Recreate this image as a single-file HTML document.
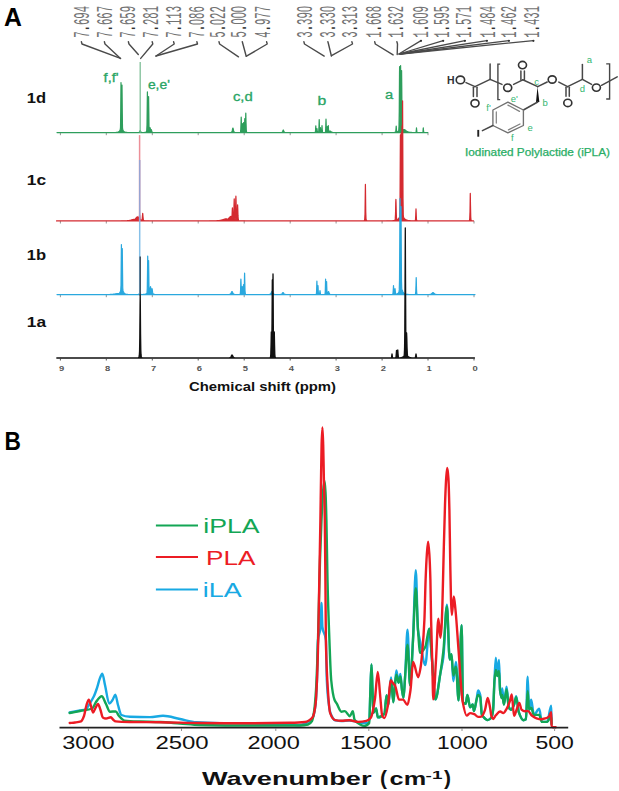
<!DOCTYPE html>
<html><head><meta charset="utf-8"><style>html,body{margin:0;padding:0;background:#fff;}svg{display:block;}</style></head>
<body>
<svg width="619" height="791" viewBox="0 0 619 791">
<rect width="619" height="791" fill="#fff"/>
<text x="4.1" y="26.4" font-family='"Liberation Sans", sans-serif' font-weight="bold" font-size="26" fill="#000" textLength="17.9" lengthAdjust="spacingAndGlyphs">A</text>
<text x="4.6" y="450" font-family='"Liberation Sans", sans-serif' font-weight="bold" font-size="26" fill="#000" textLength="16.4" lengthAdjust="spacingAndGlyphs">B</text>
<text x="26.8" y="102.5" font-family='"Liberation Sans", sans-serif' font-weight="bold" font-size="14" fill="#111" textLength="19.3" lengthAdjust="spacingAndGlyphs">1d</text>
<text x="26.8" y="184.8" font-family='"Liberation Sans", sans-serif' font-weight="bold" font-size="14" fill="#111" textLength="19.3" lengthAdjust="spacingAndGlyphs">1c</text>
<text x="26.8" y="260.0" font-family='"Liberation Sans", sans-serif' font-weight="bold" font-size="14" fill="#111" textLength="19.3" lengthAdjust="spacingAndGlyphs">1b</text>
<text x="26.8" y="326.5" font-family='"Liberation Sans", sans-serif' font-weight="bold" font-size="14" fill="#111" textLength="19.3" lengthAdjust="spacingAndGlyphs">1a</text>
<line x1="428.0" y1="132.6" x2="428.0" y2="135.2" stroke="#888" stroke-width="0.9"/><line x1="382.1" y1="132.6" x2="382.1" y2="135.2" stroke="#888" stroke-width="0.9"/><line x1="336.1" y1="132.6" x2="336.1" y2="135.2" stroke="#888" stroke-width="0.9"/><line x1="290.2" y1="132.6" x2="290.2" y2="135.2" stroke="#888" stroke-width="0.9"/><line x1="244.2" y1="132.6" x2="244.2" y2="135.2" stroke="#888" stroke-width="0.9"/><line x1="198.2" y1="132.6" x2="198.2" y2="135.2" stroke="#888" stroke-width="0.9"/><line x1="152.3" y1="132.6" x2="152.3" y2="135.2" stroke="#888" stroke-width="0.9"/><line x1="106.3" y1="132.6" x2="106.3" y2="135.2" stroke="#888" stroke-width="0.9"/><line x1="60.4" y1="132.6" x2="60.4" y2="135.2" stroke="#888" stroke-width="0.9"/><path d="M57.00,132.60 L57.25,132.60 L57.50,132.60 L57.75,132.60 L58.00,132.60 L58.25,132.60 L58.50,132.60 L58.75,132.60 L59.00,132.60 L59.25,132.60 L59.50,132.60 L59.75,132.60 L60.00,132.60 L60.25,132.60 L60.50,132.60 L60.75,132.60 L61.00,132.60 L61.25,132.60 L61.50,132.60 L61.75,132.60 L62.00,132.60 L62.25,132.60 L62.50,132.60 L62.75,132.60 L63.00,132.60 L63.25,132.60 L63.50,132.60 L63.75,132.60 L64.00,132.60 L64.25,132.60 L64.50,132.60 L64.75,132.60 L65.00,132.60 L65.25,132.60 L65.50,132.60 L65.75,132.60 L66.00,132.60 L66.25,132.60 L66.50,132.60 L66.75,132.60 L67.00,132.60 L67.25,132.60 L67.50,132.60 L67.75,132.60 L68.00,132.60 L68.25,132.60 L68.50,132.60 L68.75,132.60 L69.00,132.60 L69.25,132.60 L69.50,132.60 L69.75,132.60 L70.00,132.60 L70.25,132.60 L70.50,132.60 L70.75,132.60 L71.00,132.60 L71.25,132.60 L71.50,132.60 L71.75,132.60 L72.00,132.60 L72.25,132.60 L72.50,132.60 L72.75,132.60 L73.00,132.60 L73.25,132.60 L73.50,132.60 L73.75,132.60 L74.00,132.60 L74.25,132.60 L74.50,132.60 L74.75,132.60 L75.00,132.60 L75.25,132.60 L75.50,132.60 L75.75,132.60 L76.00,132.60 L76.25,132.60 L76.50,132.60 L76.75,132.60 L77.00,132.60 L77.25,132.60 L77.50,132.60 L77.75,132.60 L78.00,132.60 L78.25,132.60 L78.50,132.60 L78.75,132.60 L79.00,132.60 L79.25,132.60 L79.50,132.60 L79.75,132.60 L80.00,132.60 L80.25,132.60 L80.50,132.60 L80.75,132.60 L81.00,132.60 L81.25,132.60 L81.50,132.60 L81.75,132.60 L82.00,132.60 L82.25,132.60 L82.50,132.60 L82.75,132.60 L83.00,132.60 L83.25,132.60 L83.50,132.60 L83.75,132.60 L84.00,132.60 L84.25,132.60 L84.50,132.60 L84.75,132.60 L85.00,132.60 L85.25,132.60 L85.50,132.60 L85.75,132.60 L86.00,132.60 L86.25,132.60 L86.50,132.60 L86.75,132.60 L87.00,132.60 L87.25,132.60 L87.50,132.60 L87.75,132.60 L88.00,132.60 L88.25,132.60 L88.50,132.60 L88.75,132.60 L89.00,132.60 L89.25,132.60 L89.50,132.60 L89.75,132.60 L90.00,132.60 L90.25,132.60 L90.50,132.60 L90.75,132.60 L91.00,132.60 L91.25,132.60 L91.50,132.60 L91.75,132.60 L92.00,132.60 L92.25,132.60 L92.50,132.60 L92.75,132.60 L93.00,132.60 L93.25,132.60 L93.50,132.60 L93.75,132.60 L94.00,132.60 L94.25,132.60 L94.50,132.60 L94.75,132.60 L95.00,132.60 L95.25,132.60 L95.50,132.60 L95.75,132.60 L96.00,132.60 L96.25,132.60 L96.50,132.60 L96.75,132.60 L97.00,132.60 L97.25,132.60 L97.50,132.60 L97.75,132.60 L98.00,132.60 L98.25,132.60 L98.50,132.60 L98.75,132.60 L99.00,132.60 L99.25,132.60 L99.50,132.60 L99.75,132.60 L100.00,132.60 L100.25,132.60 L100.50,132.60 L100.75,132.60 L101.00,132.60 L101.25,132.60 L101.50,132.60 L101.75,132.60 L102.00,132.60 L102.25,132.60 L102.50,132.60 L102.75,132.60 L103.00,132.60 L103.25,132.60 L103.50,132.60 L103.75,132.60 L104.00,132.60 L104.25,132.60 L104.50,132.60 L104.75,132.60 L105.00,132.60 L105.25,132.60 L105.50,132.60 L105.75,132.60 L106.00,132.60 L106.25,132.60 L106.50,132.60 L106.75,132.60 L107.00,132.60 L107.25,132.60 L107.50,132.60 L107.75,132.60 L108.00,132.60 L108.25,132.59 L108.50,132.59 L108.75,132.59 L109.00,132.59 L109.25,132.59 L109.50,132.59 L109.75,132.59 L110.00,132.59 L110.25,132.59 L110.50,132.59 L110.75,132.59 L111.00,132.59 L111.25,132.59 L111.50,132.58 L111.75,132.58 L112.00,132.58 L112.25,132.58 L112.50,132.58 L112.75,132.57 L113.00,132.57 L113.25,132.57 L113.50,132.56 L113.75,132.56 L114.00,132.56 L114.25,132.55 L114.50,132.54 L114.75,132.53 L115.00,132.53 L115.25,132.51 L115.50,132.50 L115.75,132.49 L116.00,132.47 L116.25,132.45 L116.50,132.42 L116.75,132.39 L117.00,132.35 L117.25,132.30 L117.50,132.24 L117.75,132.17 L118.00,132.09 L118.25,131.98 L118.50,131.84 L118.75,131.68 L119.00,131.47 L119.25,131.23 L119.50,130.93 L119.75,130.57 L120.00,130.17 L120.25,129.72 L120.50,127.19 L120.75,110.68 L121.00,82.60 L121.25,110.68 L121.50,127.19 L121.75,111.77 L122.00,85.10 L122.25,111.77 L122.50,127.46 L122.75,129.72 L123.00,130.17 L123.25,130.57 L123.50,130.93 L123.75,131.23 L124.00,131.47 L124.25,131.68 L124.50,131.84 L124.75,131.98 L125.00,132.09 L125.25,132.17 L125.50,132.24 L125.75,132.30 L126.00,132.35 L126.25,132.39 L126.50,132.42 L126.75,132.45 L127.00,132.47 L127.25,132.49 L127.50,132.50 L127.75,132.51 L128.00,132.53 L128.25,132.53 L128.50,132.54 L128.75,132.55 L129.00,132.56 L129.25,132.56 L129.50,132.56 L129.75,132.57 L130.00,132.57 L130.25,132.57 L130.50,132.58 L130.75,132.58 L131.00,132.58 L131.25,132.58 L131.50,132.58 L131.75,132.59 L132.00,132.59 L132.25,132.59 L132.50,132.59 L132.75,132.59 L133.00,132.59 L133.25,132.59 L133.50,132.59 L133.75,132.59 L134.00,132.59 L134.25,132.59 L134.50,132.59 L134.75,132.59 L135.00,132.60 L135.25,132.60 L135.50,132.60 L135.75,132.60 L136.00,132.60 L136.25,132.60 L136.50,132.60 L136.75,132.59 L137.00,132.59 L137.25,132.59 L137.50,132.59 L137.75,132.58 L138.00,132.57 L138.25,132.56 L138.50,132.53 L138.75,132.49 L139.00,132.41 L139.25,132.26 L139.50,131.96 L139.75,131.45 L140.00,130.83 L140.20,130.60 L140.25,130.62 L140.50,131.06 L140.75,131.68 L141.00,132.10 L141.25,132.33 L141.50,132.45 L141.75,132.51 L142.00,132.55 L142.25,132.57 L142.50,132.56 L142.75,132.56 L143.00,132.55 L143.25,132.54 L143.50,132.53 L143.75,132.52 L144.00,132.50 L144.25,132.48 L144.50,132.45 L144.75,132.41 L145.00,132.36 L145.25,132.30 L145.50,132.22 L145.75,132.12 L146.00,131.99 L146.25,131.81 L146.50,131.59 L146.75,130.54 L147.00,124.95 L147.25,103.55 L147.40,91.90 L147.50,97.81 L147.75,122.42 L148.00,129.66 L148.20,125.83 L148.25,123.60 L148.50,101.83 L148.60,96.60 L148.75,106.91 L149.00,125.83 L149.25,130.76 L149.50,130.01 L149.75,128.45 L150.00,127.60 L150.25,128.45 L150.50,130.01 L150.75,130.87 L151.00,129.94 L151.20,129.60 L151.25,129.62 L151.50,130.29 L151.75,131.22 L152.00,131.85 L152.25,132.20 L152.50,132.37 L152.75,132.47 L153.00,132.52 L153.25,132.54 L153.50,132.55 L153.75,132.56 L154.00,132.57 L154.25,132.57 L154.50,132.57 L154.75,132.58 L155.00,132.58 L155.25,132.58 L155.50,132.59 L155.75,132.59 L156.00,132.59 L156.25,132.59 L156.50,132.59 L156.75,132.59 L157.00,132.59 L157.25,132.59 L157.50,132.59 L157.75,132.59 L158.00,132.60 L158.25,132.60 L158.50,132.60 L158.75,132.60 L159.00,132.60 L159.25,132.60 L159.50,132.60 L159.75,132.60 L160.00,132.60 L160.25,132.60 L160.50,132.60 L160.75,132.60 L161.00,132.60 L161.25,132.60 L161.50,132.60 L161.75,132.60 L162.00,132.60 L162.25,132.60 L162.50,132.60 L162.75,132.60 L163.00,132.60 L163.25,132.60 L163.50,132.60 L163.75,132.60 L164.00,132.60 L164.25,132.60 L164.50,132.60 L164.75,132.60 L165.00,132.60 L165.25,132.60 L165.50,132.60 L165.75,132.60 L166.00,132.60 L166.25,132.60 L166.50,132.60 L166.75,132.60 L167.00,132.60 L167.25,132.60 L167.50,132.60 L167.75,132.60 L168.00,132.60 L168.25,132.60 L168.50,132.60 L168.75,132.60 L169.00,132.60 L169.25,132.60 L169.50,132.60 L169.75,132.60 L170.00,132.60 L170.25,132.60 L170.50,132.60 L170.75,132.60 L171.00,132.60 L171.25,132.60 L171.50,132.60 L171.75,132.60 L172.00,132.60 L172.25,132.60 L172.50,132.60 L172.75,132.60 L173.00,132.60 L173.25,132.60 L173.50,132.60 L173.75,132.60 L174.00,132.60 L174.25,132.60 L174.50,132.60 L174.75,132.60 L175.00,132.60 L175.25,132.60 L175.50,132.60 L175.75,132.60 L176.00,132.60 L176.25,132.60 L176.50,132.60 L176.75,132.60 L177.00,132.60 L177.25,132.60 L177.50,132.60 L177.75,132.60 L178.00,132.60 L178.25,132.60 L178.50,132.60 L178.75,132.60 L179.00,132.60 L179.25,132.60 L179.50,132.60 L179.75,132.60 L180.00,132.60 L180.25,132.60 L180.50,132.60 L180.75,132.60 L181.00,132.60 L181.25,132.60 L181.50,132.60 L181.75,132.60 L182.00,132.60 L182.25,132.60 L182.50,132.60 L182.75,132.60 L183.00,132.60 L183.25,132.60 L183.50,132.60 L183.75,132.60 L184.00,132.60 L184.25,132.60 L184.50,132.60 L184.75,132.60 L185.00,132.60 L185.25,132.60 L185.50,132.60 L185.75,132.60 L186.00,132.60 L186.25,132.60 L186.50,132.60 L186.75,132.60 L187.00,132.60 L187.25,132.60 L187.50,132.60 L187.75,132.60 L188.00,132.60 L188.25,132.60 L188.50,132.60 L188.75,132.60 L189.00,132.60 L189.25,132.60 L189.50,132.60 L189.75,132.60 L190.00,132.60 L190.25,132.60 L190.50,132.60 L190.75,132.60 L191.00,132.60 L191.25,132.60 L191.50,132.60 L191.75,132.60 L192.00,132.60 L192.25,132.60 L192.50,132.60 L192.75,132.60 L193.00,132.60 L193.25,132.60 L193.50,132.60 L193.75,132.60 L194.00,132.60 L194.25,132.60 L194.50,132.60 L194.75,132.60 L195.00,132.60 L195.25,132.60 L195.50,132.60 L195.75,132.60 L196.00,132.60 L196.25,132.60 L196.50,132.60 L196.75,132.60 L197.00,132.60 L197.25,132.60 L197.50,132.60 L197.75,132.60 L198.00,132.60 L198.25,132.60 L198.50,132.60 L198.75,132.60 L199.00,132.60 L199.25,132.60 L199.50,132.60 L199.75,132.60 L200.00,132.60 L200.25,132.60 L200.50,132.60 L200.75,132.60 L201.00,132.60 L201.25,132.60 L201.50,132.60 L201.75,132.60 L202.00,132.60 L202.25,132.60 L202.50,132.60 L202.75,132.60 L203.00,132.60 L203.25,132.60 L203.50,132.60 L203.75,132.60 L204.00,132.60 L204.25,132.60 L204.50,132.60 L204.75,132.60 L205.00,132.60 L205.25,132.60 L205.50,132.60 L205.75,132.60 L206.00,132.60 L206.25,132.60 L206.50,132.60 L206.75,132.60 L207.00,132.60 L207.25,132.60 L207.50,132.60 L207.75,132.60 L208.00,132.60 L208.25,132.60 L208.50,132.60 L208.75,132.60 L209.00,132.60 L209.25,132.60 L209.50,132.60 L209.75,132.60 L210.00,132.60 L210.25,132.60 L210.50,132.60 L210.75,132.60 L211.00,132.60 L211.25,132.60 L211.50,132.60 L211.75,132.60 L212.00,132.60 L212.25,132.60 L212.50,132.60 L212.75,132.60 L213.00,132.60 L213.25,132.60 L213.50,132.60 L213.75,132.60 L214.00,132.60 L214.25,132.60 L214.50,132.60 L214.75,132.60 L215.00,132.60 L215.25,132.60 L215.50,132.60 L215.75,132.60 L216.00,132.60 L216.25,132.60 L216.50,132.60 L216.75,132.60 L217.00,132.60 L217.25,132.60 L217.50,132.60 L217.75,132.60 L218.00,132.60 L218.25,132.60 L218.50,132.60 L218.75,132.60 L219.00,132.60 L219.25,132.60 L219.50,132.60 L219.75,132.60 L220.00,132.60 L220.25,132.60 L220.50,132.60 L220.75,132.60 L221.00,132.60 L221.25,132.60 L221.50,132.60 L221.75,132.60 L222.00,132.60 L222.25,132.60 L222.50,132.60 L222.75,132.60 L223.00,132.60 L223.25,132.60 L223.50,132.60 L223.75,132.60 L224.00,132.60 L224.25,132.60 L224.50,132.60 L224.75,132.60 L225.00,132.60 L225.25,132.60 L225.50,132.60 L225.75,132.60 L226.00,132.60 L226.25,132.60 L226.50,132.60 L226.75,132.60 L227.00,132.60 L227.25,132.60 L227.50,132.60 L227.75,132.60 L228.00,132.60 L228.25,132.59 L228.50,132.59 L228.75,132.59 L229.00,132.59 L229.25,132.59 L229.50,132.58 L229.75,132.57 L230.00,132.57 L230.25,132.55 L230.50,132.53 L230.75,132.50 L231.00,132.45 L231.25,132.36 L231.50,132.22 L231.75,131.95 L232.00,131.47 L232.25,130.66 L232.50,129.46 L232.75,128.34 L232.90,128.10 L233.00,128.21 L233.25,129.20 L233.50,130.44 L233.75,131.34 L234.00,131.88 L234.25,132.17 L234.50,132.34 L234.75,132.44 L235.00,132.49 L235.25,132.53 L235.50,132.55 L235.75,132.56 L236.00,132.57 L236.25,132.58 L236.50,132.58 L236.75,132.59 L237.00,132.59 L237.25,132.59 L237.50,132.59 L237.75,132.60 L238.00,132.60 L238.25,132.60 L238.50,132.60 L238.75,132.59 L239.00,132.59 L239.25,132.58 L239.50,132.57 L239.75,132.55 L240.00,132.50 L240.25,132.38 L240.50,131.98 L240.75,130.40 L241.00,123.79 L241.20,117.10 L241.25,117.71 L241.50,127.45 L241.75,131.31 L242.00,129.61 L242.25,123.96 L242.30,123.60 L242.50,127.49 L242.75,131.32 L243.00,131.96 L243.25,130.10 L243.50,124.05 L243.60,122.60 L243.75,125.46 L244.00,130.72 L244.25,131.44 L244.50,127.95 L244.75,119.15 L244.80,118.60 L245.00,124.64 L245.25,130.61 L245.50,126.12 L245.75,113.87 L245.80,113.10 L246.00,121.52 L246.25,129.83 L246.50,131.82 L246.75,132.32 L247.00,132.48 L247.25,132.54 L247.50,132.57 L247.75,132.58 L248.00,132.59 L248.25,132.59 L248.50,132.59 L248.75,132.60 L249.00,132.60 L249.25,132.60 L249.50,132.60 L249.75,132.60 L250.00,132.60 L250.25,132.60 L250.50,132.60 L250.75,132.60 L251.00,132.60 L251.25,132.60 L251.50,132.60 L251.75,132.60 L252.00,132.60 L252.25,132.60 L252.50,132.60 L252.75,132.60 L253.00,132.60 L253.25,132.60 L253.50,132.60 L253.75,132.60 L254.00,132.60 L254.25,132.60 L254.50,132.60 L254.75,132.60 L255.00,132.60 L255.25,132.60 L255.50,132.60 L255.75,132.60 L256.00,132.60 L256.25,132.60 L256.50,132.60 L256.75,132.60 L257.00,132.60 L257.25,132.60 L257.50,132.60 L257.75,132.60 L258.00,132.60 L258.25,132.60 L258.50,132.60 L258.75,132.60 L259.00,132.60 L259.25,132.60 L259.50,132.60 L259.75,132.60 L260.00,132.60 L260.25,132.60 L260.50,132.60 L260.75,132.60 L261.00,132.60 L261.25,132.60 L261.50,132.60 L261.75,132.60 L262.00,132.60 L262.25,132.60 L262.50,132.60 L262.75,132.60 L263.00,132.60 L263.25,132.60 L263.50,132.60 L263.75,132.60 L264.00,132.60 L264.25,132.60 L264.50,132.60 L264.75,132.60 L265.00,132.60 L265.25,132.60 L265.50,132.60 L265.75,132.60 L266.00,132.60 L266.25,132.60 L266.50,132.60 L266.75,132.60 L267.00,132.60 L267.25,132.60 L267.50,132.60 L267.75,132.60 L268.00,132.60 L268.25,132.60 L268.50,132.60 L268.75,132.60 L269.00,132.60 L269.25,132.60 L269.50,132.60 L269.75,132.60 L270.00,132.60 L270.25,132.60 L270.50,132.60 L270.75,132.60 L271.00,132.60 L271.25,132.60 L271.50,132.60 L271.75,132.60 L272.00,132.60 L272.25,132.60 L272.50,132.60 L272.75,132.60 L273.00,132.60 L273.25,132.60 L273.50,132.60 L273.75,132.60 L274.00,132.60 L274.25,132.60 L274.50,132.60 L274.75,132.60 L275.00,132.60 L275.25,132.60 L275.50,132.60 L275.75,132.60 L276.00,132.60 L276.25,132.60 L276.50,132.60 L276.75,132.60 L277.00,132.60 L277.25,132.60 L277.50,132.60 L277.75,132.60 L278.00,132.60 L278.25,132.60 L278.50,132.60 L278.75,132.60 L279.00,132.60 L279.25,132.59 L279.50,132.59 L279.75,132.59 L280.00,132.59 L280.25,132.58 L280.50,132.58 L280.75,132.57 L281.00,132.55 L281.25,132.53 L281.50,132.50 L281.75,132.43 L282.00,132.33 L282.25,132.13 L282.50,131.79 L282.75,131.22 L283.00,130.49 L283.25,130.02 L283.30,130.00 L283.50,130.24 L283.75,130.94 L284.00,131.59 L284.25,132.02 L284.50,132.26 L284.75,132.40 L285.00,132.48 L285.25,132.52 L285.50,132.55 L285.75,132.56 L286.00,132.57 L286.25,132.58 L286.50,132.59 L286.75,132.59 L287.00,132.59 L287.25,132.59 L287.50,132.59 L287.75,132.60 L288.00,132.60 L288.25,132.60 L288.50,132.60 L288.75,132.60 L289.00,132.60 L289.25,132.60 L289.50,132.60 L289.75,132.60 L290.00,132.60 L290.25,132.60 L290.50,132.60 L290.75,132.60 L291.00,132.60 L291.25,132.60 L291.50,132.60 L291.75,132.60 L292.00,132.60 L292.25,132.60 L292.50,132.60 L292.75,132.60 L293.00,132.60 L293.25,132.60 L293.50,132.60 L293.75,132.60 L294.00,132.60 L294.25,132.60 L294.50,132.60 L294.75,132.60 L295.00,132.60 L295.25,132.60 L295.50,132.60 L295.75,132.60 L296.00,132.60 L296.25,132.60 L296.50,132.60 L296.75,132.60 L297.00,132.60 L297.25,132.60 L297.50,132.60 L297.75,132.60 L298.00,132.60 L298.25,132.60 L298.50,132.60 L298.75,132.60 L299.00,132.60 L299.25,132.60 L299.50,132.60 L299.75,132.60 L300.00,132.60 L300.25,132.60 L300.50,132.60 L300.75,132.60 L301.00,132.60 L301.25,132.60 L301.50,132.60 L301.75,132.60 L302.00,132.60 L302.25,132.60 L302.50,132.60 L302.75,132.60 L303.00,132.60 L303.25,132.60 L303.50,132.60 L303.75,132.60 L304.00,132.60 L304.25,132.60 L304.50,132.60 L304.75,132.60 L305.00,132.60 L305.25,132.60 L305.50,132.60 L305.75,132.60 L306.00,132.60 L306.25,132.60 L306.50,132.60 L306.75,132.60 L307.00,132.60 L307.25,132.60 L307.50,132.60 L307.75,132.60 L308.00,132.60 L308.25,132.60 L308.50,132.60 L308.75,132.60 L309.00,132.60 L309.25,132.60 L309.50,132.60 L309.75,132.60 L310.00,132.60 L310.25,132.60 L310.50,132.60 L310.75,132.60 L311.00,132.60 L311.25,132.60 L311.50,132.60 L311.75,132.60 L312.00,132.60 L312.25,132.60 L312.50,132.60 L312.75,132.60 L313.00,132.60 L313.25,132.60 L313.50,132.60 L313.75,132.60 L314.00,132.60 L314.25,132.59 L314.50,132.58 L314.75,132.56 L315.00,132.50 L315.25,132.24 L315.50,130.90 L315.75,126.16 L315.80,125.80 L316.00,129.34 L316.25,131.96 L316.50,132.32 L316.75,131.21 L317.00,128.60 L317.25,131.21 L317.50,132.32 L317.75,132.52 L318.00,132.56 L318.25,132.49 L318.50,132.29 L318.75,131.37 L319.00,126.37 L319.20,119.60 L319.25,120.29 L319.50,129.35 L319.75,131.92 L320.00,131.95 L320.25,129.40 L320.40,127.60 L320.50,128.55 L320.75,131.70 L321.00,132.40 L321.25,132.47 L321.50,132.11 L321.75,130.16 L322.00,125.60 L322.25,130.16 L322.50,132.11 L322.75,132.47 L323.00,132.55 L323.25,132.58 L323.50,132.59 L323.75,132.59 L324.00,132.59 L324.25,132.58 L324.50,132.58 L324.75,132.56 L325.00,132.51 L325.25,132.34 L325.50,131.65 L325.75,127.90 L326.00,119.10 L326.25,127.90 L326.50,131.65 L326.75,132.03 L327.00,129.72 L327.20,126.60 L327.25,126.92 L327.50,131.10 L327.75,132.23 L328.00,130.85 L328.25,125.97 L328.30,125.60 L328.50,129.24 L328.75,131.82 L329.00,131.64 L329.25,131.45 L329.50,131.27 L329.75,131.15 L330.00,131.10 L330.25,131.15 L330.50,131.27 L330.75,131.45 L331.00,131.64 L331.25,131.82 L331.50,131.99 L331.75,132.12 L332.00,132.22 L332.25,132.31 L332.50,132.37 L332.75,132.42 L333.00,132.46 L333.25,132.49 L333.50,132.51 L333.75,132.53 L334.00,132.54 L334.25,132.55 L334.50,132.56 L334.75,132.57 L335.00,132.57 L335.25,132.58 L335.50,132.58 L335.75,132.58 L336.00,132.59 L336.25,132.59 L336.50,132.59 L336.75,132.59 L337.00,132.59 L337.25,132.59 L337.50,132.59 L337.75,132.59 L338.00,132.59 L338.25,132.60 L338.50,132.60 L338.75,132.60 L339.00,132.60 L339.25,132.60 L339.50,132.60 L339.75,132.60 L340.00,132.60 L340.25,132.60 L340.50,132.60 L340.75,132.60 L341.00,132.60 L341.25,132.60 L341.50,132.60 L341.75,132.60 L342.00,132.60 L342.25,132.60 L342.50,132.60 L342.75,132.60 L343.00,132.60 L343.25,132.60 L343.50,132.60 L343.75,132.60 L344.00,132.60 L344.25,132.60 L344.50,132.60 L344.75,132.60 L345.00,132.60 L345.25,132.60 L345.50,132.60 L345.75,132.60 L346.00,132.60 L346.25,132.60 L346.50,132.60 L346.75,132.60 L347.00,132.60 L347.25,132.60 L347.50,132.60 L347.75,132.60 L348.00,132.60 L348.25,132.60 L348.50,132.60 L348.75,132.60 L349.00,132.60 L349.25,132.60 L349.50,132.60 L349.75,132.60 L350.00,132.60 L350.25,132.60 L350.50,132.60 L350.75,132.60 L351.00,132.60 L351.25,132.60 L351.50,132.60 L351.75,132.60 L352.00,132.60 L352.25,132.60 L352.50,132.60 L352.75,132.60 L353.00,132.60 L353.25,132.60 L353.50,132.60 L353.75,132.60 L354.00,132.60 L354.25,132.60 L354.50,132.60 L354.75,132.60 L355.00,132.60 L355.25,132.60 L355.50,132.60 L355.75,132.60 L356.00,132.60 L356.25,132.60 L356.50,132.60 L356.75,132.60 L357.00,132.60 L357.25,132.60 L357.50,132.60 L357.75,132.60 L358.00,132.60 L358.25,132.60 L358.50,132.60 L358.75,132.60 L359.00,132.60 L359.25,132.60 L359.50,132.60 L359.75,132.60 L360.00,132.60 L360.25,132.60 L360.50,132.60 L360.75,132.60 L361.00,132.60 L361.25,132.60 L361.50,132.60 L361.75,132.60 L362.00,132.60 L362.25,132.60 L362.50,132.60 L362.75,132.60 L363.00,132.60 L363.25,132.60 L363.50,132.60 L363.75,132.60 L364.00,132.60 L364.25,132.60 L364.50,132.60 L364.75,132.60 L365.00,132.60 L365.25,132.60 L365.50,132.60 L365.75,132.60 L366.00,132.60 L366.25,132.60 L366.50,132.60 L366.75,132.60 L367.00,132.60 L367.25,132.60 L367.50,132.60 L367.75,132.60 L368.00,132.60 L368.25,132.60 L368.50,132.60 L368.75,132.60 L369.00,132.60 L369.25,132.60 L369.50,132.60 L369.75,132.60 L370.00,132.60 L370.25,132.60 L370.50,132.60 L370.75,132.60 L371.00,132.60 L371.25,132.60 L371.50,132.60 L371.75,132.60 L372.00,132.60 L372.25,132.60 L372.50,132.60 L372.75,132.60 L373.00,132.60 L373.25,132.60 L373.50,132.60 L373.75,132.60 L374.00,132.60 L374.25,132.60 L374.50,132.60 L374.75,132.60 L375.00,132.60 L375.25,132.60 L375.50,132.60 L375.75,132.60 L376.00,132.60 L376.25,132.60 L376.50,132.60 L376.75,132.60 L377.00,132.60 L377.25,132.60 L377.50,132.60 L377.75,132.60 L378.00,132.60 L378.25,132.60 L378.50,132.60 L378.75,132.60 L379.00,132.60 L379.25,132.60 L379.50,132.60 L379.75,132.60 L380.00,132.60 L380.25,132.60 L380.50,132.60 L380.75,132.60 L381.00,132.60 L381.25,132.60 L381.50,132.60 L381.75,132.60 L382.00,132.60 L382.25,132.60 L382.50,132.60 L382.75,132.60 L383.00,132.60 L383.25,132.60 L383.50,132.60 L383.75,132.60 L384.00,132.60 L384.25,132.60 L384.50,132.60 L384.75,132.59 L385.00,132.59 L385.25,132.59 L385.50,132.59 L385.75,132.59 L386.00,132.59 L386.25,132.59 L386.50,132.59 L386.75,132.59 L387.00,132.59 L387.25,132.59 L387.50,132.59 L387.75,132.59 L388.00,132.59 L388.25,132.59 L388.50,132.59 L388.75,132.59 L389.00,132.58 L389.25,132.58 L389.50,132.58 L389.75,132.58 L390.00,132.58 L390.25,132.58 L390.50,132.57 L390.75,132.57 L391.00,132.57 L391.25,132.57 L391.50,132.56 L391.75,132.56 L392.00,132.55 L392.25,132.55 L392.50,132.54 L392.75,132.54 L393.00,132.53 L393.25,132.52 L393.50,132.51 L393.75,132.50 L394.00,132.48 L394.25,132.47 L394.50,132.45 L394.75,132.43 L395.00,132.40 L395.25,132.37 L395.50,132.34 L395.75,131.68 L396.00,128.91 L396.20,126.10 L396.25,126.36 L396.50,130.44 L396.75,132.03 L397.00,131.93 L397.25,131.81 L397.50,131.66 L397.75,131.49 L398.00,131.30 L398.25,131.06 L398.50,130.80 L398.75,130.43 L399.00,126.35 L399.25,111.43 L399.50,74.14 L399.60,66.60 L399.75,81.87 L400.00,116.10 L400.25,111.11 L400.50,73.25 L400.60,65.60 L400.75,81.10 L401.00,115.85 L401.25,112.71 L401.50,77.68 L401.60,70.60 L401.75,84.95 L402.00,117.10 L402.25,127.92 L402.50,130.29 L402.75,130.11 L403.00,129.94 L403.25,129.80 L403.50,129.69 L403.75,129.62 L404.00,129.60 L404.25,129.62 L404.50,129.69 L404.75,129.80 L405.00,129.94 L405.25,130.11 L405.50,130.29 L405.75,130.49 L406.00,130.68 L406.25,130.87 L406.50,131.05 L406.75,131.22 L407.00,131.37 L407.25,131.51 L407.50,131.64 L407.75,131.75 L408.00,131.85 L408.25,131.94 L408.50,132.02 L408.75,132.08 L409.00,132.14 L409.25,132.20 L409.50,132.24 L409.75,132.28 L410.00,132.32 L410.25,132.35 L410.50,132.37 L410.75,132.40 L411.00,132.42 L411.25,132.44 L411.50,132.45 L411.75,132.47 L412.00,132.48 L412.25,132.49 L412.50,132.50 L412.75,132.51 L413.00,132.52 L413.25,132.53 L413.50,132.53 L413.75,132.54 L414.00,132.54 L414.25,132.55 L414.50,132.55 L414.75,132.56 L415.00,132.56 L415.25,132.56 L415.50,132.57 L415.75,132.51 L416.00,132.26 L416.25,130.93 L416.50,127.80 L416.75,130.93 L417.00,132.26 L417.25,132.51 L417.50,132.57 L417.75,132.58 L418.00,132.58 L418.25,132.58 L418.50,132.58 L418.75,132.59 L419.00,132.59 L419.25,132.59 L419.50,132.59 L419.75,132.59 L420.00,132.59 L420.25,132.59 L420.50,132.59 L420.75,132.59 L421.00,132.59 L421.25,132.59 L421.50,132.59 L421.75,132.59 L422.00,132.59 L422.25,132.57 L422.50,132.53 L422.75,132.35 L423.00,131.40 L423.25,128.06 L423.30,127.80 L423.50,130.30 L423.75,132.15 L424.00,132.48 L424.25,132.56 L424.50,132.58 L424.75,132.59 L425.00,132.60 L425.25,132.60 L425.50,132.60 L425.75,132.60 L426.00,132.60 L426.25,132.60 L426.50,132.60 L426.75,132.60 L427.00,132.60 L427.25,132.60 L427.50,132.60 L427.75,132.60 L427.80,132.60 L57.00,132.60 Z" fill="#2e9e5c" stroke="#2e9e5c" stroke-width="1.20" stroke-linejoin="round"/>
<line x1="140.2" y1="132.6" x2="140.2" y2="62.0" stroke="#7fbf98" stroke-width="1.3"/>
<line x1="474.0" y1="220.9" x2="474.0" y2="223.5" stroke="#888" stroke-width="0.9"/><line x1="428.0" y1="220.9" x2="428.0" y2="223.5" stroke="#888" stroke-width="0.9"/><line x1="382.1" y1="220.9" x2="382.1" y2="223.5" stroke="#888" stroke-width="0.9"/><line x1="336.1" y1="220.9" x2="336.1" y2="223.5" stroke="#888" stroke-width="0.9"/><line x1="290.2" y1="220.9" x2="290.2" y2="223.5" stroke="#888" stroke-width="0.9"/><line x1="244.2" y1="220.9" x2="244.2" y2="223.5" stroke="#888" stroke-width="0.9"/><line x1="198.2" y1="220.9" x2="198.2" y2="223.5" stroke="#888" stroke-width="0.9"/><line x1="152.3" y1="220.9" x2="152.3" y2="223.5" stroke="#888" stroke-width="0.9"/><line x1="106.3" y1="220.9" x2="106.3" y2="223.5" stroke="#888" stroke-width="0.9"/><line x1="60.4" y1="220.9" x2="60.4" y2="223.5" stroke="#888" stroke-width="0.9"/><path d="M56.50,220.90 L56.75,220.90 L57.00,220.90 L57.25,220.90 L57.50,220.90 L57.75,220.90 L58.00,220.90 L58.25,220.90 L58.50,220.90 L58.75,220.90 L59.00,220.90 L59.25,220.90 L59.50,220.90 L59.75,220.90 L60.00,220.90 L60.25,220.90 L60.50,220.90 L60.75,220.90 L61.00,220.90 L61.25,220.90 L61.50,220.90 L61.75,220.90 L62.00,220.90 L62.25,220.90 L62.50,220.90 L62.75,220.90 L63.00,220.90 L63.25,220.90 L63.50,220.90 L63.75,220.90 L64.00,220.90 L64.25,220.90 L64.50,220.90 L64.75,220.90 L65.00,220.90 L65.25,220.90 L65.50,220.90 L65.75,220.90 L66.00,220.90 L66.25,220.90 L66.50,220.90 L66.75,220.90 L67.00,220.90 L67.25,220.90 L67.50,220.90 L67.75,220.90 L68.00,220.90 L68.25,220.90 L68.50,220.90 L68.75,220.90 L69.00,220.90 L69.25,220.90 L69.50,220.90 L69.75,220.90 L70.00,220.90 L70.25,220.90 L70.50,220.90 L70.75,220.90 L71.00,220.90 L71.25,220.90 L71.50,220.90 L71.75,220.90 L72.00,220.90 L72.25,220.90 L72.50,220.90 L72.75,220.90 L73.00,220.90 L73.25,220.90 L73.50,220.90 L73.75,220.90 L74.00,220.90 L74.25,220.90 L74.50,220.90 L74.75,220.90 L75.00,220.90 L75.25,220.90 L75.50,220.90 L75.75,220.90 L76.00,220.90 L76.25,220.90 L76.50,220.90 L76.75,220.90 L77.00,220.90 L77.25,220.90 L77.50,220.90 L77.75,220.90 L78.00,220.90 L78.25,220.90 L78.50,220.90 L78.75,220.90 L79.00,220.90 L79.25,220.90 L79.50,220.90 L79.75,220.90 L80.00,220.90 L80.25,220.90 L80.50,220.90 L80.75,220.90 L81.00,220.90 L81.25,220.90 L81.50,220.90 L81.75,220.90 L82.00,220.90 L82.25,220.90 L82.50,220.90 L82.75,220.90 L83.00,220.90 L83.25,220.90 L83.50,220.90 L83.75,220.90 L84.00,220.90 L84.25,220.90 L84.50,220.90 L84.75,220.90 L85.00,220.90 L85.25,220.90 L85.50,220.90 L85.75,220.90 L86.00,220.90 L86.25,220.90 L86.50,220.90 L86.75,220.90 L87.00,220.90 L87.25,220.90 L87.50,220.90 L87.75,220.90 L88.00,220.90 L88.25,220.90 L88.50,220.90 L88.75,220.90 L89.00,220.90 L89.25,220.90 L89.50,220.90 L89.75,220.90 L90.00,220.90 L90.25,220.90 L90.50,220.90 L90.75,220.90 L91.00,220.90 L91.25,220.90 L91.50,220.90 L91.75,220.90 L92.00,220.90 L92.25,220.90 L92.50,220.90 L92.75,220.90 L93.00,220.90 L93.25,220.90 L93.50,220.90 L93.75,220.90 L94.00,220.90 L94.25,220.90 L94.50,220.90 L94.75,220.90 L95.00,220.90 L95.25,220.90 L95.50,220.90 L95.75,220.90 L96.00,220.90 L96.25,220.90 L96.50,220.90 L96.75,220.90 L97.00,220.90 L97.25,220.90 L97.50,220.90 L97.75,220.90 L98.00,220.90 L98.25,220.90 L98.50,220.90 L98.75,220.90 L99.00,220.90 L99.25,220.90 L99.50,220.90 L99.75,220.90 L100.00,220.90 L100.25,220.90 L100.50,220.90 L100.75,220.90 L101.00,220.90 L101.25,220.90 L101.50,220.90 L101.75,220.90 L102.00,220.90 L102.25,220.90 L102.50,220.90 L102.75,220.90 L103.00,220.90 L103.25,220.90 L103.50,220.90 L103.75,220.90 L104.00,220.90 L104.25,220.90 L104.50,220.90 L104.75,220.90 L105.00,220.90 L105.25,220.90 L105.50,220.90 L105.75,220.90 L106.00,220.90 L106.25,220.90 L106.50,220.90 L106.75,220.90 L107.00,220.90 L107.25,220.90 L107.50,220.90 L107.75,220.90 L108.00,220.90 L108.25,220.90 L108.50,220.90 L108.75,220.90 L109.00,220.90 L109.25,220.90 L109.50,220.90 L109.75,220.90 L110.00,220.90 L110.25,220.90 L110.50,220.90 L110.75,220.90 L111.00,220.90 L111.25,220.90 L111.50,220.90 L111.75,220.90 L112.00,220.90 L112.25,220.90 L112.50,220.90 L112.75,220.90 L113.00,220.90 L113.25,220.90 L113.50,220.90 L113.75,220.90 L114.00,220.89 L114.25,220.89 L114.50,220.89 L114.75,220.89 L115.00,220.89 L115.25,220.89 L115.50,220.89 L115.75,220.89 L116.00,220.89 L116.25,220.89 L116.50,220.89 L116.75,220.89 L117.00,220.89 L117.25,220.89 L117.50,220.89 L117.75,220.89 L118.00,220.89 L118.25,220.89 L118.50,220.89 L118.75,220.89 L119.00,220.89 L119.25,220.88 L119.50,220.88 L119.75,220.88 L120.00,220.88 L120.25,220.88 L120.50,220.88 L120.75,220.88 L121.00,220.88 L121.25,220.87 L121.50,220.87 L121.75,220.87 L122.00,220.87 L122.25,220.86 L122.50,220.86 L122.75,220.86 L123.00,220.86 L123.25,220.85 L123.50,220.85 L123.75,220.84 L124.00,220.84 L124.25,220.83 L124.50,220.83 L124.75,220.82 L125.00,220.82 L125.25,220.81 L125.50,220.80 L125.75,220.79 L126.00,220.78 L126.25,220.77 L126.50,220.76 L126.75,220.74 L127.00,220.73 L127.25,220.71 L127.50,220.69 L127.75,220.67 L128.00,220.65 L128.25,220.62 L128.50,220.59 L128.75,220.56 L129.00,220.53 L129.25,220.49 L129.50,220.44 L129.75,220.39 L130.00,220.34 L130.25,220.29 L130.50,220.22 L130.75,220.16 L131.00,220.09 L131.25,220.02 L131.50,219.94 L131.75,219.86 L132.00,219.79 L132.25,219.71 L132.50,219.64 L132.75,219.57 L133.00,219.51 L133.25,219.47 L133.50,219.43 L133.75,219.41 L134.00,219.40 L134.25,219.41 L134.50,219.43 L134.75,219.37 L135.00,219.15 L135.25,218.90 L135.50,218.63 L135.75,218.34 L136.00,218.05 L136.25,217.75 L136.50,217.48 L136.75,217.24 L137.00,217.06 L137.25,216.94 L137.50,216.90 L137.75,216.94 L138.00,217.06 L138.25,217.24 L138.50,217.48 L138.75,217.75 L139.00,218.05 L139.25,218.34 L139.50,215.45 L139.60,214.90 L139.75,216.04 L140.00,219.03 L140.25,219.37 L140.50,219.57 L140.75,219.75 L141.00,219.90 L141.25,220.03 L141.50,220.15 L141.75,220.25 L142.00,220.04 L142.25,218.61 L142.50,215.33 L142.70,213.40 L142.75,213.55 L143.00,216.85 L143.25,219.36 L143.50,220.31 L143.75,220.64 L144.00,220.70 L144.25,220.72 L144.50,220.74 L144.75,220.76 L145.00,220.77 L145.25,220.79 L145.50,220.80 L145.75,220.81 L146.00,220.82 L146.25,220.82 L146.50,220.83 L146.75,220.84 L147.00,220.84 L147.25,220.85 L147.50,220.85 L147.75,220.86 L148.00,220.86 L148.25,220.86 L148.50,220.87 L148.75,220.87 L149.00,220.87 L149.25,220.87 L149.50,220.88 L149.75,220.88 L150.00,220.88 L150.25,220.88 L150.50,220.88 L150.75,220.88 L151.00,220.88 L151.25,220.89 L151.50,220.89 L151.75,220.89 L152.00,220.89 L152.25,220.89 L152.50,220.89 L152.75,220.89 L153.00,220.89 L153.25,220.89 L153.50,220.89 L153.75,220.89 L154.00,220.89 L154.25,220.89 L154.50,220.89 L154.75,220.89 L155.00,220.89 L155.25,220.89 L155.50,220.89 L155.75,220.89 L156.00,220.90 L156.25,220.90 L156.50,220.90 L156.75,220.90 L157.00,220.90 L157.25,220.90 L157.50,220.90 L157.75,220.90 L158.00,220.90 L158.25,220.90 L158.50,220.90 L158.75,220.90 L159.00,220.90 L159.25,220.90 L159.50,220.90 L159.75,220.90 L160.00,220.90 L160.25,220.90 L160.50,220.90 L160.75,220.90 L161.00,220.90 L161.25,220.90 L161.50,220.90 L161.75,220.90 L162.00,220.90 L162.25,220.90 L162.50,220.90 L162.75,220.90 L163.00,220.90 L163.25,220.90 L163.50,220.90 L163.75,220.90 L164.00,220.90 L164.25,220.90 L164.50,220.90 L164.75,220.90 L165.00,220.90 L165.25,220.90 L165.50,220.90 L165.75,220.90 L166.00,220.90 L166.25,220.90 L166.50,220.90 L166.75,220.90 L167.00,220.90 L167.25,220.90 L167.50,220.90 L167.75,220.90 L168.00,220.90 L168.25,220.90 L168.50,220.90 L168.75,220.90 L169.00,220.90 L169.25,220.90 L169.50,220.90 L169.75,220.90 L170.00,220.90 L170.25,220.90 L170.50,220.90 L170.75,220.90 L171.00,220.90 L171.25,220.90 L171.50,220.90 L171.75,220.90 L172.00,220.90 L172.25,220.90 L172.50,220.90 L172.75,220.90 L173.00,220.90 L173.25,220.90 L173.50,220.90 L173.75,220.90 L174.00,220.90 L174.25,220.90 L174.50,220.90 L174.75,220.90 L175.00,220.90 L175.25,220.90 L175.50,220.90 L175.75,220.90 L176.00,220.90 L176.25,220.90 L176.50,220.90 L176.75,220.90 L177.00,220.90 L177.25,220.90 L177.50,220.90 L177.75,220.90 L178.00,220.90 L178.25,220.90 L178.50,220.90 L178.75,220.90 L179.00,220.90 L179.25,220.90 L179.50,220.90 L179.75,220.90 L180.00,220.90 L180.25,220.90 L180.50,220.90 L180.75,220.90 L181.00,220.90 L181.25,220.90 L181.50,220.90 L181.75,220.90 L182.00,220.90 L182.25,220.90 L182.50,220.90 L182.75,220.90 L183.00,220.90 L183.25,220.90 L183.50,220.90 L183.75,220.90 L184.00,220.90 L184.25,220.90 L184.50,220.90 L184.75,220.90 L185.00,220.90 L185.25,220.90 L185.50,220.90 L185.75,220.90 L186.00,220.90 L186.25,220.90 L186.50,220.90 L186.75,220.90 L187.00,220.90 L187.25,220.90 L187.50,220.90 L187.75,220.90 L188.00,220.90 L188.25,220.90 L188.50,220.90 L188.75,220.90 L189.00,220.90 L189.25,220.90 L189.50,220.90 L189.75,220.90 L190.00,220.90 L190.25,220.90 L190.50,220.90 L190.75,220.90 L191.00,220.90 L191.25,220.90 L191.50,220.90 L191.75,220.90 L192.00,220.90 L192.25,220.90 L192.50,220.90 L192.75,220.90 L193.00,220.90 L193.25,220.90 L193.50,220.90 L193.75,220.90 L194.00,220.90 L194.25,220.90 L194.50,220.90 L194.75,220.90 L195.00,220.90 L195.25,220.90 L195.50,220.90 L195.75,220.90 L196.00,220.90 L196.25,220.90 L196.50,220.90 L196.75,220.90 L197.00,220.90 L197.25,220.90 L197.50,220.90 L197.75,220.90 L198.00,220.90 L198.25,220.90 L198.50,220.90 L198.75,220.90 L199.00,220.90 L199.25,220.90 L199.50,220.90 L199.75,220.90 L200.00,220.89 L200.25,220.89 L200.50,220.89 L200.75,220.89 L201.00,220.89 L201.25,220.89 L201.50,220.89 L201.75,220.89 L202.00,220.89 L202.25,220.89 L202.50,220.89 L202.75,220.89 L203.00,220.89 L203.25,220.89 L203.50,220.89 L203.75,220.89 L204.00,220.89 L204.25,220.89 L204.50,220.89 L204.75,220.89 L205.00,220.89 L205.25,220.89 L205.50,220.89 L205.75,220.89 L206.00,220.89 L206.25,220.89 L206.50,220.89 L206.75,220.88 L207.00,220.88 L207.25,220.88 L207.50,220.88 L207.75,220.88 L208.00,220.88 L208.25,220.88 L208.50,220.88 L208.75,220.88 L209.00,220.88 L209.25,220.87 L209.50,220.87 L209.75,220.87 L210.00,220.87 L210.25,220.87 L210.50,220.87 L210.75,220.86 L211.00,220.86 L211.25,220.86 L211.50,220.86 L211.75,220.85 L212.00,220.85 L212.25,220.85 L212.50,220.85 L212.75,220.84 L213.00,220.84 L213.25,220.83 L213.50,220.83 L213.75,220.83 L214.00,220.82 L214.25,220.81 L214.50,220.81 L214.75,220.80 L215.00,220.79 L215.25,220.79 L215.50,220.78 L215.75,220.77 L216.00,220.76 L216.25,220.75 L216.50,220.74 L216.75,220.72 L217.00,220.71 L217.25,220.70 L217.50,220.68 L217.75,220.66 L218.00,220.64 L218.25,220.62 L218.50,220.60 L218.75,220.57 L219.00,220.54 L219.25,220.51 L219.50,220.48 L219.75,220.44 L220.00,220.40 L220.25,220.36 L220.50,220.31 L220.75,220.26 L221.00,220.20 L221.25,220.14 L221.50,220.08 L221.75,220.01 L222.00,219.94 L222.25,219.87 L222.50,219.79 L222.75,219.70 L223.00,219.62 L223.25,219.53 L223.50,219.45 L223.75,219.36 L224.00,219.28 L224.25,219.20 L224.50,219.13 L224.75,219.06 L225.00,219.01 L225.25,218.96 L225.50,218.93 L225.75,218.91 L226.00,218.90 L226.25,218.91 L226.50,218.93 L226.75,218.96 L227.00,219.01 L227.25,219.06 L227.50,219.13 L227.75,219.20 L228.00,219.06 L228.25,218.83 L228.50,218.57 L228.75,218.30 L229.00,218.02 L229.25,217.73 L229.50,217.44 L229.75,217.17 L230.00,216.91 L230.25,216.70 L230.50,216.54 L230.75,216.43 L231.00,216.40 L231.25,216.43 L231.50,216.54 L231.75,216.70 L232.00,216.84 L232.25,210.37 L232.40,207.90 L232.50,209.09 L232.75,215.85 L233.00,218.02 L233.25,218.30 L233.50,218.57 L233.75,215.40 L234.00,205.56 L234.20,198.90 L234.25,199.43 L234.50,210.36 L234.75,217.36 L235.00,219.63 L235.25,218.31 L235.50,213.19 L235.75,200.89 L235.90,196.20 L236.00,198.47 L236.25,211.31 L236.50,217.70 L236.75,219.72 L237.00,218.83 L237.25,214.69 L237.50,206.37 L237.60,204.90 L237.75,207.94 L238.00,215.91 L238.25,219.22 L238.50,220.26 L238.75,220.62 L239.00,220.72 L239.25,220.74 L239.50,220.75 L239.75,220.77 L240.00,220.78 L240.25,220.79 L240.50,220.80 L240.75,220.81 L241.00,220.81 L241.25,220.82 L241.50,220.83 L241.75,220.83 L242.00,220.84 L242.25,220.84 L242.50,220.85 L242.75,220.85 L243.00,220.86 L243.25,220.86 L243.50,220.86 L243.75,220.86 L244.00,220.87 L244.25,220.87 L244.50,220.87 L244.75,220.87 L245.00,220.87 L245.25,220.88 L245.50,220.88 L245.75,220.88 L246.00,220.88 L246.25,220.88 L246.50,220.88 L246.75,220.88 L247.00,220.88 L247.25,220.89 L247.50,220.89 L247.75,220.89 L248.00,220.89 L248.25,220.89 L248.50,220.89 L248.75,220.89 L249.00,220.89 L249.25,220.89 L249.50,220.89 L249.75,220.89 L250.00,220.89 L250.25,220.89 L250.50,220.89 L250.75,220.89 L251.00,220.89 L251.25,220.89 L251.50,220.89 L251.75,220.89 L252.00,220.89 L252.25,220.89 L252.50,220.89 L252.75,220.90 L253.00,220.90 L253.25,220.90 L253.50,220.90 L253.75,220.90 L254.00,220.90 L254.25,220.90 L254.50,220.90 L254.75,220.90 L255.00,220.90 L255.25,220.90 L255.50,220.90 L255.75,220.90 L256.00,220.90 L256.25,220.90 L256.50,220.90 L256.75,220.90 L257.00,220.90 L257.25,220.90 L257.50,220.90 L257.75,220.90 L258.00,220.90 L258.25,220.90 L258.50,220.90 L258.75,220.90 L259.00,220.90 L259.25,220.90 L259.50,220.90 L259.75,220.90 L260.00,220.90 L260.25,220.90 L260.50,220.90 L260.75,220.90 L261.00,220.90 L261.25,220.90 L261.50,220.90 L261.75,220.90 L262.00,220.90 L262.25,220.90 L262.50,220.90 L262.75,220.90 L263.00,220.90 L263.25,220.90 L263.50,220.90 L263.75,220.90 L264.00,220.90 L264.25,220.90 L264.50,220.90 L264.75,220.90 L265.00,220.90 L265.25,220.90 L265.50,220.90 L265.75,220.90 L266.00,220.90 L266.25,220.90 L266.50,220.90 L266.75,220.90 L267.00,220.90 L267.25,220.90 L267.50,220.90 L267.75,220.90 L268.00,220.90 L268.25,220.90 L268.50,220.90 L268.75,220.90 L269.00,220.90 L269.25,220.90 L269.50,220.90 L269.75,220.90 L270.00,220.90 L270.25,220.90 L270.50,220.90 L270.75,220.90 L271.00,220.90 L271.25,220.90 L271.50,220.90 L271.75,220.90 L272.00,220.90 L272.25,220.90 L272.50,220.90 L272.75,220.90 L273.00,220.90 L273.25,220.90 L273.50,220.90 L273.75,220.90 L274.00,220.90 L274.25,220.90 L274.50,220.90 L274.75,220.90 L275.00,220.90 L275.25,220.90 L275.50,220.90 L275.75,220.90 L276.00,220.90 L276.25,220.90 L276.50,220.90 L276.75,220.90 L277.00,220.90 L277.25,220.90 L277.50,220.90 L277.75,220.90 L278.00,220.90 L278.25,220.90 L278.50,220.90 L278.75,220.90 L279.00,220.90 L279.25,220.90 L279.50,220.90 L279.75,220.90 L280.00,220.90 L280.25,220.90 L280.50,220.90 L280.75,220.90 L281.00,220.90 L281.25,220.90 L281.50,220.90 L281.75,220.90 L282.00,220.90 L282.25,220.90 L282.50,220.90 L282.75,220.90 L283.00,220.90 L283.25,220.90 L283.50,220.90 L283.75,220.90 L284.00,220.90 L284.25,220.90 L284.50,220.90 L284.75,220.90 L285.00,220.90 L285.25,220.90 L285.50,220.90 L285.75,220.90 L286.00,220.90 L286.25,220.90 L286.50,220.90 L286.75,220.90 L287.00,220.90 L287.25,220.90 L287.50,220.90 L287.75,220.90 L288.00,220.90 L288.25,220.90 L288.50,220.90 L288.75,220.90 L289.00,220.90 L289.25,220.90 L289.50,220.90 L289.75,220.90 L290.00,220.90 L290.25,220.90 L290.50,220.90 L290.75,220.90 L291.00,220.90 L291.25,220.90 L291.50,220.90 L291.75,220.90 L292.00,220.90 L292.25,220.90 L292.50,220.90 L292.75,220.90 L293.00,220.90 L293.25,220.90 L293.50,220.90 L293.75,220.90 L294.00,220.90 L294.25,220.90 L294.50,220.90 L294.75,220.90 L295.00,220.90 L295.25,220.90 L295.50,220.90 L295.75,220.90 L296.00,220.90 L296.25,220.90 L296.50,220.90 L296.75,220.90 L297.00,220.90 L297.25,220.90 L297.50,220.90 L297.75,220.90 L298.00,220.90 L298.25,220.90 L298.50,220.90 L298.75,220.90 L299.00,220.90 L299.25,220.90 L299.50,220.90 L299.75,220.90 L300.00,220.90 L300.25,220.90 L300.50,220.90 L300.75,220.90 L301.00,220.90 L301.25,220.90 L301.50,220.90 L301.75,220.90 L302.00,220.90 L302.25,220.90 L302.50,220.90 L302.75,220.90 L303.00,220.90 L303.25,220.90 L303.50,220.90 L303.75,220.90 L304.00,220.90 L304.25,220.90 L304.50,220.90 L304.75,220.90 L305.00,220.90 L305.25,220.90 L305.50,220.90 L305.75,220.90 L306.00,220.90 L306.25,220.90 L306.50,220.90 L306.75,220.90 L307.00,220.90 L307.25,220.90 L307.50,220.90 L307.75,220.90 L308.00,220.90 L308.25,220.90 L308.50,220.90 L308.75,220.90 L309.00,220.90 L309.25,220.90 L309.50,220.90 L309.75,220.90 L310.00,220.90 L310.25,220.90 L310.50,220.90 L310.75,220.90 L311.00,220.90 L311.25,220.90 L311.50,220.90 L311.75,220.90 L312.00,220.90 L312.25,220.90 L312.50,220.90 L312.75,220.90 L313.00,220.90 L313.25,220.90 L313.50,220.90 L313.75,220.90 L314.00,220.90 L314.25,220.90 L314.50,220.90 L314.75,220.90 L315.00,220.90 L315.25,220.90 L315.50,220.90 L315.75,220.90 L316.00,220.90 L316.25,220.90 L316.50,220.90 L316.75,220.90 L317.00,220.90 L317.25,220.90 L317.50,220.90 L317.75,220.90 L318.00,220.90 L318.25,220.90 L318.50,220.90 L318.75,220.90 L319.00,220.90 L319.25,220.90 L319.50,220.90 L319.75,220.90 L320.00,220.90 L320.25,220.90 L320.50,220.90 L320.75,220.90 L321.00,220.90 L321.25,220.90 L321.50,220.90 L321.75,220.90 L322.00,220.90 L322.25,220.90 L322.50,220.90 L322.75,220.90 L323.00,220.90 L323.25,220.90 L323.50,220.90 L323.75,220.90 L324.00,220.90 L324.25,220.90 L324.50,220.90 L324.75,220.90 L325.00,220.90 L325.25,220.90 L325.50,220.90 L325.75,220.90 L326.00,220.90 L326.25,220.90 L326.50,220.90 L326.75,220.90 L327.00,220.90 L327.25,220.90 L327.50,220.90 L327.75,220.90 L328.00,220.90 L328.25,220.90 L328.50,220.90 L328.75,220.90 L329.00,220.90 L329.25,220.90 L329.50,220.90 L329.75,220.90 L330.00,220.90 L330.25,220.90 L330.50,220.90 L330.75,220.90 L331.00,220.90 L331.25,220.90 L331.50,220.90 L331.75,220.90 L332.00,220.90 L332.25,220.90 L332.50,220.90 L332.75,220.90 L333.00,220.90 L333.25,220.90 L333.50,220.90 L333.75,220.90 L334.00,220.90 L334.25,220.90 L334.50,220.90 L334.75,220.90 L335.00,220.90 L335.25,220.90 L335.50,220.90 L335.75,220.90 L336.00,220.90 L336.25,220.90 L336.50,220.90 L336.75,220.90 L337.00,220.90 L337.25,220.90 L337.50,220.90 L337.75,220.90 L338.00,220.90 L338.25,220.90 L338.50,220.90 L338.75,220.90 L339.00,220.90 L339.25,220.90 L339.50,220.90 L339.75,220.90 L340.00,220.90 L340.25,220.90 L340.50,220.90 L340.75,220.90 L341.00,220.90 L341.25,220.90 L341.50,220.90 L341.75,220.90 L342.00,220.90 L342.25,220.90 L342.50,220.90 L342.75,220.90 L343.00,220.90 L343.25,220.90 L343.50,220.90 L343.75,220.90 L344.00,220.90 L344.25,220.90 L344.50,220.90 L344.75,220.90 L345.00,220.90 L345.25,220.90 L345.50,220.90 L345.75,220.90 L346.00,220.90 L346.25,220.90 L346.50,220.90 L346.75,220.90 L347.00,220.90 L347.25,220.90 L347.50,220.90 L347.75,220.90 L348.00,220.90 L348.25,220.90 L348.50,220.90 L348.75,220.90 L349.00,220.90 L349.25,220.90 L349.50,220.90 L349.75,220.90 L350.00,220.90 L350.25,220.90 L350.50,220.90 L350.75,220.90 L351.00,220.90 L351.25,220.90 L351.50,220.90 L351.75,220.90 L352.00,220.90 L352.25,220.90 L352.50,220.90 L352.75,220.90 L353.00,220.90 L353.25,220.90 L353.50,220.90 L353.75,220.90 L354.00,220.90 L354.25,220.90 L354.50,220.90 L354.75,220.90 L355.00,220.90 L355.25,220.90 L355.50,220.90 L355.75,220.90 L356.00,220.90 L356.25,220.90 L356.50,220.90 L356.75,220.90 L357.00,220.90 L357.25,220.90 L357.50,220.90 L357.75,220.90 L358.00,220.90 L358.25,220.90 L358.50,220.90 L358.75,220.90 L359.00,220.90 L359.25,220.90 L359.50,220.90 L359.75,220.90 L360.00,220.90 L360.25,220.90 L360.50,220.90 L360.75,220.90 L361.00,220.90 L361.25,220.90 L361.50,220.90 L361.75,220.90 L362.00,220.90 L362.25,220.89 L362.50,220.89 L362.75,220.89 L363.00,220.88 L363.25,220.88 L363.50,220.86 L363.75,220.83 L364.00,220.77 L364.25,220.64 L364.50,220.27 L364.75,219.06 L365.00,214.04 L365.25,194.85 L365.40,184.40 L365.50,189.70 L365.75,211.78 L366.00,218.55 L366.25,220.13 L366.50,220.59 L366.75,220.76 L367.00,220.82 L367.25,220.86 L367.50,220.87 L367.75,220.88 L368.00,220.89 L368.25,220.89 L368.50,220.89 L368.75,220.90 L369.00,220.90 L369.25,220.90 L369.50,220.90 L369.75,220.90 L370.00,220.90 L370.25,220.90 L370.50,220.90 L370.75,220.90 L371.00,220.90 L371.25,220.90 L371.50,220.90 L371.75,220.90 L372.00,220.90 L372.25,220.90 L372.50,220.90 L372.75,220.90 L373.00,220.90 L373.25,220.90 L373.50,220.90 L373.75,220.90 L374.00,220.90 L374.25,220.90 L374.50,220.90 L374.75,220.90 L375.00,220.90 L375.25,220.90 L375.50,220.90 L375.75,220.90 L376.00,220.90 L376.25,220.90 L376.50,220.90 L376.75,220.90 L377.00,220.90 L377.25,220.90 L377.50,220.90 L377.75,220.90 L378.00,220.90 L378.25,220.90 L378.50,220.89 L378.75,220.89 L379.00,220.89 L379.25,220.89 L379.50,220.89 L379.75,220.89 L380.00,220.89 L380.25,220.89 L380.50,220.89 L380.75,220.89 L381.00,220.89 L381.25,220.89 L381.50,220.89 L381.75,220.89 L382.00,220.89 L382.25,220.89 L382.50,220.89 L382.75,220.89 L383.00,220.89 L383.25,220.89 L383.50,220.89 L383.75,220.89 L384.00,220.89 L384.25,220.88 L384.50,220.88 L384.75,220.88 L385.00,220.88 L385.25,220.88 L385.50,220.88 L385.75,220.88 L386.00,220.88 L386.25,220.88 L386.50,220.87 L386.75,220.87 L387.00,220.87 L387.25,220.87 L387.50,220.87 L387.75,220.86 L388.00,220.86 L388.25,220.86 L388.50,220.86 L388.75,220.85 L389.00,220.85 L389.25,220.84 L389.50,220.84 L389.75,220.84 L390.00,220.83 L390.25,220.82 L390.50,220.82 L390.75,220.81 L391.00,220.80 L391.25,220.80 L391.50,220.79 L391.75,220.78 L392.00,220.76 L392.25,220.75 L392.50,220.74 L392.75,220.72 L393.00,220.70 L393.25,220.68 L393.50,220.66 L393.75,220.63 L394.00,220.61 L394.25,220.57 L394.50,220.54 L394.75,220.49 L395.00,220.04 L395.25,218.64 L395.50,214.19 L395.75,203.48 L395.90,199.40 L396.00,201.38 L396.25,212.55 L396.50,218.11 L396.75,219.87 L397.00,219.73 L397.25,219.58 L397.50,219.40 L397.75,219.20 L398.00,218.98 L398.25,218.72 L398.50,218.44 L398.75,218.13 L399.00,217.80 L399.25,217.44 L399.50,217.06 L399.75,216.56 L400.00,204.73 L400.25,159.52 L400.40,134.90 L400.50,147.39 L400.75,199.40 L401.00,170.89 L401.20,132.90 L401.25,136.38 L401.50,191.66 L401.75,179.25 L402.00,125.90 L402.25,179.25 L402.50,118.33 L402.60,100.90 L402.75,135.25 L403.00,198.34 L403.25,214.84 L403.50,217.06 L403.75,217.44 L404.00,217.80 L404.25,218.13 L404.50,218.44 L404.75,218.72 L405.00,218.98 L405.25,219.20 L405.50,219.40 L405.75,219.58 L406.00,219.73 L406.25,219.87 L406.50,219.99 L406.75,220.09 L407.00,220.18 L407.25,220.26 L407.50,220.33 L407.75,220.39 L408.00,220.45 L408.25,220.49 L408.50,220.54 L408.75,220.57 L409.00,220.61 L409.25,220.63 L409.50,220.66 L409.75,220.68 L410.00,220.70 L410.25,220.72 L410.50,220.74 L410.75,220.75 L411.00,220.76 L411.25,220.78 L411.50,220.79 L411.75,220.80 L412.00,220.80 L412.25,220.81 L412.50,220.82 L412.75,220.82 L413.00,220.83 L413.25,220.84 L413.50,220.84 L413.75,220.84 L414.00,220.85 L414.25,220.85 L414.50,220.86 L414.75,220.84 L415.00,220.76 L415.25,220.52 L415.50,219.60 L415.75,215.64 L416.00,208.90 L416.25,215.64 L416.50,219.60 L416.75,220.52 L417.00,220.76 L417.25,220.84 L417.50,220.87 L417.75,220.88 L418.00,220.88 L418.25,220.88 L418.50,220.88 L418.75,220.88 L419.00,220.89 L419.25,220.89 L419.50,220.89 L419.75,220.89 L420.00,220.89 L420.25,220.89 L420.50,220.89 L420.75,220.89 L421.00,220.89 L421.25,220.89 L421.50,220.89 L421.75,220.89 L422.00,220.89 L422.25,220.89 L422.50,220.89 L422.75,220.89 L423.00,220.89 L423.25,220.89 L423.50,220.89 L423.75,220.89 L424.00,220.89 L424.25,220.89 L424.50,220.89 L424.75,220.90 L425.00,220.90 L425.25,220.90 L425.50,220.90 L425.75,220.90 L426.00,220.90 L426.25,220.90 L426.50,220.90 L426.75,220.90 L427.00,220.90 L427.25,220.90 L427.50,220.90 L427.75,220.90 L428.00,220.90 L428.25,220.90 L428.50,220.90 L428.75,220.90 L429.00,220.90 L429.25,220.90 L429.50,220.90 L429.75,220.90 L430.00,220.90 L430.25,220.90 L430.50,220.90 L430.75,220.90 L431.00,220.90 L431.25,220.90 L431.50,220.90 L431.75,220.90 L432.00,220.90 L432.25,220.90 L432.50,220.90 L432.75,220.90 L433.00,220.90 L433.25,220.90 L433.50,220.90 L433.75,220.90 L434.00,220.90 L434.25,220.90 L434.50,220.90 L434.75,220.90 L435.00,220.90 L435.25,220.90 L435.50,220.90 L435.75,220.90 L436.00,220.90 L436.25,220.90 L436.50,220.90 L436.75,220.90 L437.00,220.90 L437.25,220.90 L437.50,220.90 L437.75,220.90 L438.00,220.90 L438.25,220.90 L438.50,220.90 L438.75,220.90 L439.00,220.90 L439.25,220.90 L439.50,220.90 L439.75,220.90 L440.00,220.90 L440.25,220.90 L440.50,220.90 L440.75,220.90 L441.00,220.90 L441.25,220.90 L441.50,220.90 L441.75,220.90 L442.00,220.90 L442.25,220.90 L442.50,220.90 L442.75,220.90 L443.00,220.90 L443.25,220.90 L443.50,220.90 L443.75,220.90 L444.00,220.90 L444.25,220.90 L444.50,220.90 L444.75,220.90 L445.00,220.90 L445.25,220.90 L445.50,220.90 L445.75,220.90 L446.00,220.90 L446.25,220.90 L446.50,220.90 L446.75,220.90 L447.00,220.90 L447.25,220.90 L447.50,220.90 L447.75,220.90 L448.00,220.90 L448.25,220.90 L448.50,220.90 L448.75,220.90 L449.00,220.90 L449.25,220.90 L449.50,220.90 L449.75,220.90 L450.00,220.90 L450.25,220.90 L450.50,220.90 L450.75,220.90 L451.00,220.90 L451.25,220.90 L451.50,220.90 L451.75,220.90 L452.00,220.90 L452.25,220.90 L452.50,220.90 L452.75,220.90 L453.00,220.90 L453.25,220.90 L453.50,220.90 L453.75,220.90 L454.00,220.90 L454.25,220.90 L454.50,220.90 L454.75,220.90 L455.00,220.90 L455.25,220.90 L455.50,220.90 L455.75,220.90 L456.00,220.90 L456.25,220.90 L456.50,220.90 L456.75,220.90 L457.00,220.90 L457.25,220.90 L457.50,220.90 L457.75,220.90 L458.00,220.90 L458.25,220.90 L458.50,220.90 L458.75,220.90 L459.00,220.90 L459.25,220.90 L459.50,220.90 L459.75,220.90 L460.00,220.90 L460.25,220.90 L460.50,220.90 L460.75,220.90 L461.00,220.90 L461.25,220.90 L461.50,220.90 L461.75,220.90 L462.00,220.90 L462.25,220.90 L462.50,220.90 L462.75,220.90 L463.00,220.90 L463.25,220.90 L463.50,220.90 L463.75,220.90 L464.00,220.90 L464.25,220.90 L464.50,220.90 L464.75,220.90 L465.00,220.90 L465.25,220.90 L465.50,220.90 L465.75,220.90 L466.00,220.90 L466.25,220.90 L466.50,220.90 L466.75,220.90 L467.00,220.90 L467.25,220.90 L467.50,220.89 L467.75,220.89 L468.00,220.89 L468.25,220.88 L468.50,220.86 L468.75,220.84 L469.00,220.77 L469.25,220.63 L469.50,220.19 L469.75,218.62 L470.00,211.76 L470.25,194.49 L470.30,193.40 L470.50,205.27 L470.75,216.99 L471.00,219.80 L471.25,220.51 L471.50,220.73 L471.75,220.82 L472.00,220.85 L472.25,220.87 L472.50,220.88 L472.75,220.89 L473.00,220.89 L473.25,220.89 L473.50,220.90 L473.50,220.90 L56.50,220.90 Z" fill="#d42a30" stroke="#d42a30" stroke-width="1.20" stroke-linejoin="round"/>
<line x1="139.6" y1="220.9" x2="139.6" y2="135.1" stroke="#ec8f98" stroke-width="1.5"/>
<line x1="474.0" y1="294.6" x2="474.0" y2="297.2" stroke="#888" stroke-width="0.9"/><line x1="428.0" y1="294.6" x2="428.0" y2="297.2" stroke="#888" stroke-width="0.9"/><line x1="382.1" y1="294.6" x2="382.1" y2="297.2" stroke="#888" stroke-width="0.9"/><line x1="336.1" y1="294.6" x2="336.1" y2="297.2" stroke="#888" stroke-width="0.9"/><line x1="290.2" y1="294.6" x2="290.2" y2="297.2" stroke="#888" stroke-width="0.9"/><line x1="244.2" y1="294.6" x2="244.2" y2="297.2" stroke="#888" stroke-width="0.9"/><line x1="198.2" y1="294.6" x2="198.2" y2="297.2" stroke="#888" stroke-width="0.9"/><line x1="152.3" y1="294.6" x2="152.3" y2="297.2" stroke="#888" stroke-width="0.9"/><line x1="106.3" y1="294.6" x2="106.3" y2="297.2" stroke="#888" stroke-width="0.9"/><line x1="60.4" y1="294.6" x2="60.4" y2="297.2" stroke="#888" stroke-width="0.9"/><path d="M57.00,294.60 L57.25,294.60 L57.50,294.60 L57.75,294.60 L58.00,294.60 L58.25,294.60 L58.50,294.60 L58.75,294.60 L59.00,294.60 L59.25,294.60 L59.50,294.60 L59.75,294.60 L60.00,294.60 L60.25,294.60 L60.50,294.60 L60.75,294.60 L61.00,294.60 L61.25,294.60 L61.50,294.60 L61.75,294.60 L62.00,294.60 L62.25,294.60 L62.50,294.60 L62.75,294.60 L63.00,294.60 L63.25,294.60 L63.50,294.60 L63.75,294.60 L64.00,294.60 L64.25,294.60 L64.50,294.60 L64.75,294.60 L65.00,294.60 L65.25,294.60 L65.50,294.60 L65.75,294.60 L66.00,294.60 L66.25,294.60 L66.50,294.60 L66.75,294.60 L67.00,294.60 L67.25,294.60 L67.50,294.60 L67.75,294.60 L68.00,294.60 L68.25,294.60 L68.50,294.60 L68.75,294.60 L69.00,294.60 L69.25,294.60 L69.50,294.60 L69.75,294.60 L70.00,294.60 L70.25,294.60 L70.50,294.60 L70.75,294.60 L71.00,294.60 L71.25,294.60 L71.50,294.60 L71.75,294.60 L72.00,294.60 L72.25,294.60 L72.50,294.60 L72.75,294.60 L73.00,294.60 L73.25,294.60 L73.50,294.60 L73.75,294.60 L74.00,294.60 L74.25,294.60 L74.50,294.60 L74.75,294.60 L75.00,294.60 L75.25,294.60 L75.50,294.60 L75.75,294.60 L76.00,294.60 L76.25,294.60 L76.50,294.60 L76.75,294.60 L77.00,294.60 L77.25,294.60 L77.50,294.60 L77.75,294.60 L78.00,294.60 L78.25,294.60 L78.50,294.60 L78.75,294.60 L79.00,294.60 L79.25,294.60 L79.50,294.60 L79.75,294.60 L80.00,294.60 L80.25,294.60 L80.50,294.60 L80.75,294.60 L81.00,294.60 L81.25,294.60 L81.50,294.60 L81.75,294.60 L82.00,294.60 L82.25,294.60 L82.50,294.60 L82.75,294.60 L83.00,294.60 L83.25,294.60 L83.50,294.60 L83.75,294.60 L84.00,294.60 L84.25,294.60 L84.50,294.60 L84.75,294.60 L85.00,294.60 L85.25,294.60 L85.50,294.60 L85.75,294.60 L86.00,294.60 L86.25,294.60 L86.50,294.60 L86.75,294.60 L87.00,294.60 L87.25,294.60 L87.50,294.60 L87.75,294.60 L88.00,294.60 L88.25,294.60 L88.50,294.60 L88.75,294.60 L89.00,294.60 L89.25,294.60 L89.50,294.60 L89.75,294.60 L90.00,294.60 L90.25,294.60 L90.50,294.60 L90.75,294.60 L91.00,294.60 L91.25,294.60 L91.50,294.60 L91.75,294.60 L92.00,294.60 L92.25,294.60 L92.50,294.60 L92.75,294.60 L93.00,294.60 L93.25,294.60 L93.50,294.60 L93.75,294.60 L94.00,294.60 L94.25,294.60 L94.50,294.60 L94.75,294.60 L95.00,294.60 L95.25,294.60 L95.50,294.60 L95.75,294.60 L96.00,294.60 L96.25,294.59 L96.50,294.59 L96.75,294.59 L97.00,294.59 L97.25,294.59 L97.50,294.59 L97.75,294.59 L98.00,294.59 L98.25,294.59 L98.50,294.59 L98.75,294.59 L99.00,294.59 L99.25,294.59 L99.50,294.59 L99.75,294.59 L100.00,294.59 L100.25,294.59 L100.50,294.59 L100.75,294.59 L101.00,294.59 L101.25,294.59 L101.50,294.59 L101.75,294.59 L102.00,294.58 L102.25,294.58 L102.50,294.58 L102.75,294.58 L103.00,294.58 L103.25,294.58 L103.50,294.58 L103.75,294.58 L104.00,294.58 L104.25,294.57 L104.50,294.57 L104.75,294.57 L105.00,294.57 L105.25,294.57 L105.50,294.56 L105.75,294.56 L106.00,294.56 L106.25,294.56 L106.50,294.55 L106.75,294.55 L107.00,294.55 L107.25,294.54 L107.50,294.54 L107.75,294.53 L108.00,294.53 L108.25,294.52 L108.50,294.52 L108.75,294.51 L109.00,294.51 L109.25,294.50 L109.50,294.49 L109.75,294.48 L110.00,294.47 L110.25,294.46 L110.50,294.45 L110.75,294.43 L111.00,294.42 L111.25,294.41 L111.50,294.39 L111.75,294.37 L112.00,294.35 L112.25,294.33 L112.50,294.30 L112.75,294.28 L113.00,294.25 L113.25,294.22 L113.50,294.19 L113.75,294.16 L114.00,294.12 L114.25,294.08 L114.50,294.04 L114.75,294.00 L115.00,293.96 L115.25,293.92 L115.50,293.87 L115.75,293.83 L116.00,293.79 L116.25,293.75 L116.50,293.71 L116.75,293.68 L117.00,293.65 L117.25,293.63 L117.50,293.61 L117.75,293.60 L118.00,293.60 L118.25,293.60 L118.50,293.61 L118.75,293.63 L119.00,293.42 L119.25,293.16 L119.50,292.84 L119.75,292.45 L120.00,292.00 L120.25,291.47 L120.50,290.88 L120.75,290.26 L121.00,285.20 L121.25,258.91 L121.40,244.60 L121.50,251.86 L121.75,282.10 L121.80,285.20 L122.00,279.31 L122.25,250.42 L122.30,248.60 L122.50,268.46 L122.75,288.06 L123.00,290.64 L123.25,291.24 L123.50,291.79 L123.75,292.28 L124.00,292.69 L124.25,293.04 L124.50,293.32 L124.75,293.55 L125.00,293.74 L125.25,293.89 L125.50,294.01 L125.75,294.11 L126.00,294.19 L126.25,294.25 L126.50,294.31 L126.75,294.35 L127.00,294.39 L127.25,294.42 L127.50,294.44 L127.75,294.46 L128.00,294.48 L128.25,294.50 L128.50,294.51 L128.75,294.52 L129.00,294.53 L129.25,294.54 L129.50,294.55 L129.75,294.55 L130.00,294.56 L130.25,294.56 L130.50,294.56 L130.75,294.57 L131.00,294.57 L131.25,294.57 L131.50,294.57 L131.75,294.57 L132.00,294.58 L132.25,294.58 L132.50,294.58 L132.75,294.58 L133.00,294.58 L133.25,294.58 L133.50,294.58 L133.75,294.58 L134.00,294.58 L134.25,294.59 L134.50,294.59 L134.75,294.59 L135.00,294.59 L135.25,294.59 L135.50,294.59 L135.75,294.59 L136.00,294.59 L136.25,294.59 L136.50,294.59 L136.75,294.59 L137.00,294.59 L137.25,294.58 L137.50,294.58 L137.75,294.57 L138.00,294.55 L138.25,294.51 L138.50,294.45 L138.75,294.33 L139.00,294.10 L139.25,293.68 L139.50,293.06 L139.75,292.62 L139.80,292.60 L140.00,292.83 L140.25,293.45 L140.50,293.96 L140.75,294.26 L141.00,294.41 L141.25,294.49 L141.50,294.53 L141.75,294.54 L142.00,294.53 L142.25,294.52 L142.50,294.51 L142.75,294.49 L143.00,294.48 L143.25,294.46 L143.50,294.44 L143.75,294.42 L144.00,294.39 L144.25,294.36 L144.50,294.32 L144.75,294.27 L145.00,294.21 L145.25,294.14 L145.50,294.06 L145.75,293.97 L146.00,293.85 L146.25,293.71 L146.50,293.56 L146.75,293.37 L147.00,293.06 L147.25,289.13 L147.50,272.72 L147.70,256.10 L147.75,257.62 L148.00,281.81 L148.25,286.10 L148.50,265.54 L148.60,260.60 L148.75,270.33 L149.00,288.21 L149.25,291.64 L149.50,291.76 L149.75,291.94 L150.00,290.46 L150.25,287.96 L150.50,286.60 L150.75,287.96 L151.00,290.46 L151.25,292.33 L151.50,291.50 L151.75,289.62 L152.00,288.60 L152.25,289.62 L152.50,291.50 L152.75,292.90 L153.00,293.69 L153.25,294.09 L153.50,294.31 L153.75,294.36 L154.00,294.39 L154.25,294.42 L154.50,294.44 L154.75,294.46 L155.00,294.48 L155.25,294.49 L155.50,294.51 L155.75,294.52 L156.00,294.53 L156.25,294.54 L156.50,294.54 L156.75,294.55 L157.00,294.55 L157.25,294.56 L157.50,294.56 L157.75,294.57 L158.00,294.57 L158.25,294.57 L158.50,294.58 L158.75,294.58 L159.00,294.58 L159.25,294.58 L159.50,294.58 L159.75,294.58 L160.00,294.59 L160.25,294.59 L160.50,294.59 L160.75,294.59 L161.00,294.59 L161.25,294.59 L161.50,294.59 L161.75,294.59 L162.00,294.59 L162.25,294.59 L162.50,294.59 L162.75,294.59 L163.00,294.59 L163.25,294.59 L163.50,294.59 L163.75,294.60 L164.00,294.60 L164.25,294.60 L164.50,294.60 L164.75,294.60 L165.00,294.60 L165.25,294.60 L165.50,294.60 L165.75,294.60 L166.00,294.60 L166.25,294.60 L166.50,294.60 L166.75,294.60 L167.00,294.60 L167.25,294.60 L167.50,294.60 L167.75,294.60 L168.00,294.60 L168.25,294.60 L168.50,294.60 L168.75,294.60 L169.00,294.60 L169.25,294.60 L169.50,294.60 L169.75,294.60 L170.00,294.60 L170.25,294.60 L170.50,294.60 L170.75,294.60 L171.00,294.60 L171.25,294.60 L171.50,294.60 L171.75,294.60 L172.00,294.60 L172.25,294.60 L172.50,294.60 L172.75,294.60 L173.00,294.60 L173.25,294.60 L173.50,294.60 L173.75,294.60 L174.00,294.60 L174.25,294.60 L174.50,294.60 L174.75,294.60 L175.00,294.60 L175.25,294.60 L175.50,294.60 L175.75,294.60 L176.00,294.60 L176.25,294.60 L176.50,294.60 L176.75,294.60 L177.00,294.60 L177.25,294.60 L177.50,294.60 L177.75,294.60 L178.00,294.60 L178.25,294.60 L178.50,294.60 L178.75,294.60 L179.00,294.60 L179.25,294.60 L179.50,294.60 L179.75,294.60 L180.00,294.60 L180.25,294.60 L180.50,294.60 L180.75,294.60 L181.00,294.60 L181.25,294.60 L181.50,294.60 L181.75,294.60 L182.00,294.60 L182.25,294.60 L182.50,294.60 L182.75,294.60 L183.00,294.60 L183.25,294.60 L183.50,294.60 L183.75,294.60 L184.00,294.60 L184.25,294.60 L184.50,294.60 L184.75,294.60 L185.00,294.60 L185.25,294.60 L185.50,294.60 L185.75,294.60 L186.00,294.60 L186.25,294.60 L186.50,294.60 L186.75,294.60 L187.00,294.60 L187.25,294.60 L187.50,294.60 L187.75,294.60 L188.00,294.60 L188.25,294.60 L188.50,294.60 L188.75,294.60 L189.00,294.60 L189.25,294.60 L189.50,294.60 L189.75,294.60 L190.00,294.60 L190.25,294.60 L190.50,294.60 L190.75,294.60 L191.00,294.60 L191.25,294.60 L191.50,294.60 L191.75,294.60 L192.00,294.60 L192.25,294.60 L192.50,294.60 L192.75,294.60 L193.00,294.60 L193.25,294.60 L193.50,294.60 L193.75,294.60 L194.00,294.60 L194.25,294.60 L194.50,294.60 L194.75,294.60 L195.00,294.60 L195.25,294.60 L195.50,294.60 L195.75,294.60 L196.00,294.60 L196.25,294.60 L196.50,294.60 L196.75,294.60 L197.00,294.60 L197.25,294.60 L197.50,294.60 L197.75,294.60 L198.00,294.60 L198.25,294.60 L198.50,294.60 L198.75,294.60 L199.00,294.60 L199.25,294.60 L199.50,294.60 L199.75,294.60 L200.00,294.60 L200.25,294.60 L200.50,294.60 L200.75,294.60 L201.00,294.60 L201.25,294.60 L201.50,294.60 L201.75,294.60 L202.00,294.60 L202.25,294.60 L202.50,294.60 L202.75,294.60 L203.00,294.60 L203.25,294.60 L203.50,294.60 L203.75,294.60 L204.00,294.60 L204.25,294.60 L204.50,294.60 L204.75,294.60 L205.00,294.60 L205.25,294.60 L205.50,294.60 L205.75,294.60 L206.00,294.60 L206.25,294.60 L206.50,294.60 L206.75,294.60 L207.00,294.60 L207.25,294.60 L207.50,294.60 L207.75,294.60 L208.00,294.60 L208.25,294.60 L208.50,294.60 L208.75,294.60 L209.00,294.60 L209.25,294.60 L209.50,294.60 L209.75,294.60 L210.00,294.60 L210.25,294.60 L210.50,294.60 L210.75,294.60 L211.00,294.60 L211.25,294.60 L211.50,294.60 L211.75,294.60 L212.00,294.60 L212.25,294.60 L212.50,294.60 L212.75,294.60 L213.00,294.60 L213.25,294.60 L213.50,294.60 L213.75,294.60 L214.00,294.60 L214.25,294.60 L214.50,294.60 L214.75,294.60 L215.00,294.60 L215.25,294.60 L215.50,294.60 L215.75,294.60 L216.00,294.60 L216.25,294.60 L216.50,294.60 L216.75,294.60 L217.00,294.60 L217.25,294.60 L217.50,294.60 L217.75,294.60 L218.00,294.60 L218.25,294.60 L218.50,294.60 L218.75,294.60 L219.00,294.60 L219.25,294.60 L219.50,294.60 L219.75,294.60 L220.00,294.60 L220.25,294.60 L220.50,294.60 L220.75,294.60 L221.00,294.60 L221.25,294.60 L221.50,294.60 L221.75,294.60 L222.00,294.60 L222.25,294.60 L222.50,294.60 L222.75,294.60 L223.00,294.60 L223.25,294.60 L223.50,294.60 L223.75,294.60 L224.00,294.60 L224.25,294.60 L224.50,294.60 L224.75,294.59 L225.00,294.59 L225.25,294.59 L225.50,294.59 L225.75,294.59 L226.00,294.59 L226.25,294.59 L226.50,294.59 L226.75,294.58 L227.00,294.58 L227.25,294.58 L227.50,294.57 L227.75,294.56 L228.00,294.55 L228.25,294.54 L228.50,294.53 L228.75,294.51 L229.00,294.48 L229.25,294.44 L229.50,294.39 L229.75,294.32 L230.00,294.21 L230.25,294.06 L230.50,293.85 L230.75,293.56 L231.00,293.16 L231.25,292.68 L231.50,292.17 L231.75,291.76 L232.00,291.60 L232.25,291.76 L232.50,292.17 L232.75,292.68 L233.00,293.16 L233.25,293.56 L233.50,293.85 L233.75,294.06 L234.00,294.21 L234.25,294.32 L234.50,294.39 L234.75,294.44 L235.00,294.48 L235.25,294.51 L235.50,294.53 L235.75,294.54 L236.00,294.55 L236.25,294.56 L236.50,294.57 L236.75,294.58 L237.00,294.58 L237.25,294.58 L237.50,294.59 L237.75,294.59 L238.00,294.59 L238.25,294.59 L238.50,294.59 L238.75,294.59 L239.00,294.58 L239.25,294.57 L239.50,294.55 L239.75,294.49 L240.00,294.33 L240.25,293.82 L240.50,291.69 L240.75,283.54 L240.90,279.10 L241.00,281.35 L241.25,290.72 L241.50,293.60 L241.75,293.46 L242.00,290.05 L242.20,286.60 L242.25,286.92 L242.50,291.94 L242.75,293.94 L243.00,293.52 L243.25,290.22 L243.50,284.60 L243.75,290.22 L244.00,293.21 L244.25,289.22 L244.50,276.22 L244.60,273.10 L244.75,279.25 L245.00,290.56 L245.25,293.51 L245.50,294.23 L245.75,294.45 L246.00,294.53 L246.25,294.56 L246.50,294.58 L246.75,294.59 L247.00,294.59 L247.25,294.59 L247.50,294.60 L247.75,294.60 L248.00,294.60 L248.25,294.60 L248.50,294.60 L248.75,294.60 L249.00,294.60 L249.25,294.60 L249.50,294.60 L249.75,294.60 L250.00,294.60 L250.25,294.60 L250.50,294.60 L250.75,294.60 L251.00,294.60 L251.25,294.60 L251.50,294.60 L251.75,294.60 L252.00,294.60 L252.25,294.60 L252.50,294.60 L252.75,294.60 L253.00,294.60 L253.25,294.60 L253.50,294.60 L253.75,294.60 L254.00,294.60 L254.25,294.60 L254.50,294.60 L254.75,294.60 L255.00,294.60 L255.25,294.60 L255.50,294.60 L255.75,294.60 L256.00,294.60 L256.25,294.60 L256.50,294.60 L256.75,294.60 L257.00,294.60 L257.25,294.60 L257.50,294.60 L257.75,294.60 L258.00,294.60 L258.25,294.60 L258.50,294.60 L258.75,294.60 L259.00,294.60 L259.25,294.60 L259.50,294.60 L259.75,294.60 L260.00,294.60 L260.25,294.60 L260.50,294.60 L260.75,294.60 L261.00,294.60 L261.25,294.60 L261.50,294.60 L261.75,294.60 L262.00,294.60 L262.25,294.60 L262.50,294.60 L262.75,294.60 L263.00,294.60 L263.25,294.60 L263.50,294.60 L263.75,294.60 L264.00,294.60 L264.25,294.60 L264.50,294.60 L264.75,294.59 L265.00,294.59 L265.25,294.59 L265.50,294.59 L265.75,294.59 L266.00,294.59 L266.25,294.59 L266.50,294.59 L266.75,294.58 L267.00,294.58 L267.25,294.58 L267.50,294.57 L267.75,294.56 L268.00,294.55 L268.25,294.54 L268.50,294.53 L268.75,294.51 L269.00,294.48 L269.25,294.44 L269.50,294.39 L269.75,294.32 L270.00,294.21 L270.25,294.06 L270.50,293.85 L270.75,293.56 L271.00,293.16 L271.25,292.68 L271.50,292.17 L271.75,291.76 L272.00,291.60 L272.25,291.76 L272.50,292.17 L272.75,292.68 L273.00,293.16 L273.25,293.56 L273.50,293.85 L273.75,294.06 L274.00,294.21 L274.25,294.32 L274.50,294.39 L274.75,294.44 L275.00,294.48 L275.25,294.51 L275.50,294.53 L275.75,294.54 L276.00,294.55 L276.25,294.56 L276.50,294.57 L276.75,294.58 L277.00,294.58 L277.25,294.58 L277.50,294.59 L277.75,294.59 L278.00,294.59 L278.25,294.58 L278.50,294.58 L278.75,294.58 L279.00,294.57 L279.25,294.56 L279.50,294.55 L279.75,294.54 L280.00,294.52 L280.25,294.49 L280.50,294.46 L280.75,294.41 L281.00,294.34 L281.25,294.24 L281.50,294.10 L281.75,293.90 L282.00,293.64 L282.25,293.32 L282.50,292.98 L282.75,292.71 L283.00,292.60 L283.25,292.71 L283.50,292.98 L283.75,293.32 L284.00,293.64 L284.25,293.90 L284.50,294.10 L284.75,294.24 L285.00,294.34 L285.25,294.41 L285.50,294.46 L285.75,294.49 L286.00,294.52 L286.25,294.54 L286.50,294.55 L286.75,294.56 L287.00,294.57 L287.25,294.58 L287.50,294.58 L287.75,294.58 L288.00,294.59 L288.25,294.59 L288.50,294.59 L288.75,294.59 L289.00,294.59 L289.25,294.59 L289.50,294.59 L289.75,294.60 L290.00,294.60 L290.25,294.60 L290.50,294.60 L290.75,294.60 L291.00,294.60 L291.25,294.60 L291.50,294.60 L291.75,294.60 L292.00,294.60 L292.25,294.60 L292.50,294.60 L292.75,294.60 L293.00,294.60 L293.25,294.60 L293.50,294.60 L293.75,294.60 L294.00,294.60 L294.25,294.60 L294.50,294.60 L294.75,294.60 L295.00,294.60 L295.25,294.60 L295.50,294.60 L295.75,294.60 L296.00,294.60 L296.25,294.60 L296.50,294.60 L296.75,294.60 L297.00,294.60 L297.25,294.60 L297.50,294.60 L297.75,294.60 L298.00,294.60 L298.25,294.60 L298.50,294.60 L298.75,294.60 L299.00,294.60 L299.25,294.60 L299.50,294.60 L299.75,294.60 L300.00,294.60 L300.25,294.60 L300.50,294.60 L300.75,294.60 L301.00,294.60 L301.25,294.60 L301.50,294.60 L301.75,294.60 L302.00,294.60 L302.25,294.60 L302.50,294.60 L302.75,294.60 L303.00,294.60 L303.25,294.60 L303.50,294.60 L303.75,294.60 L304.00,294.60 L304.25,294.60 L304.50,294.60 L304.75,294.60 L305.00,294.60 L305.25,294.60 L305.50,294.60 L305.75,294.60 L306.00,294.60 L306.25,294.60 L306.50,294.60 L306.75,294.60 L307.00,294.60 L307.25,294.60 L307.50,294.60 L307.75,294.60 L308.00,294.60 L308.25,294.60 L308.50,294.60 L308.75,294.60 L309.00,294.60 L309.25,294.60 L309.50,294.60 L309.75,294.60 L310.00,294.60 L310.25,294.60 L310.50,294.60 L310.75,294.60 L311.00,294.60 L311.25,294.60 L311.50,294.60 L311.75,294.60 L312.00,294.60 L312.25,294.60 L312.50,294.60 L312.75,294.60 L313.00,294.60 L313.25,294.60 L313.50,294.60 L313.75,294.60 L314.00,294.60 L314.25,294.60 L314.50,294.60 L314.75,294.60 L315.00,294.59 L315.25,294.59 L315.50,294.57 L315.75,294.55 L316.00,294.47 L316.25,294.18 L316.50,292.85 L316.75,285.96 L316.90,281.10 L317.00,283.67 L317.25,292.18 L317.50,293.97 L317.75,291.47 L318.00,285.60 L318.25,291.47 L318.50,293.97 L318.75,294.43 L319.00,294.52 L319.25,294.40 L319.50,293.99 L319.75,292.53 L320.00,290.60 L320.25,292.53 L320.50,293.99 L320.75,294.40 L321.00,294.52 L321.25,294.57 L321.50,294.58 L321.75,294.59 L322.00,294.59 L322.25,294.60 L322.50,294.60 L322.75,294.60 L323.00,294.60 L323.25,294.60 L323.50,294.59 L323.75,294.59 L324.00,294.58 L324.25,294.57 L324.50,294.53 L324.75,294.41 L325.00,293.98 L325.25,291.82 L325.50,282.05 L325.60,279.10 L325.75,284.68 L326.00,292.59 L326.25,292.27 L326.50,284.07 L326.60,281.60 L326.75,286.28 L327.00,292.92 L327.25,294.14 L327.50,293.85 L327.75,293.37 L328.00,292.68 L328.25,291.94 L328.50,291.60 L328.75,291.94 L329.00,292.68 L329.25,293.37 L329.50,293.85 L329.75,294.14 L330.00,294.32 L330.25,294.42 L330.50,294.48 L330.75,294.52 L331.00,294.54 L331.25,294.56 L331.50,294.57 L331.75,294.58 L332.00,294.58 L332.25,294.59 L332.50,294.59 L332.75,294.59 L333.00,294.59 L333.25,294.59 L333.50,294.60 L333.75,294.60 L334.00,294.60 L334.25,294.60 L334.50,294.60 L334.75,294.60 L335.00,294.60 L335.25,294.60 L335.50,294.60 L335.75,294.60 L336.00,294.60 L336.25,294.60 L336.50,294.60 L336.75,294.60 L337.00,294.60 L337.25,294.60 L337.50,294.60 L337.75,294.60 L338.00,294.60 L338.25,294.60 L338.50,294.60 L338.75,294.60 L339.00,294.60 L339.25,294.60 L339.50,294.60 L339.75,294.60 L340.00,294.60 L340.25,294.60 L340.50,294.60 L340.75,294.60 L341.00,294.60 L341.25,294.60 L341.50,294.60 L341.75,294.60 L342.00,294.60 L342.25,294.60 L342.50,294.60 L342.75,294.60 L343.00,294.60 L343.25,294.60 L343.50,294.60 L343.75,294.60 L344.00,294.60 L344.25,294.60 L344.50,294.60 L344.75,294.60 L345.00,294.60 L345.25,294.60 L345.50,294.60 L345.75,294.60 L346.00,294.60 L346.25,294.60 L346.50,294.60 L346.75,294.60 L347.00,294.60 L347.25,294.60 L347.50,294.60 L347.75,294.60 L348.00,294.60 L348.25,294.60 L348.50,294.60 L348.75,294.60 L349.00,294.60 L349.25,294.60 L349.50,294.60 L349.75,294.60 L350.00,294.60 L350.25,294.60 L350.50,294.60 L350.75,294.60 L351.00,294.60 L351.25,294.60 L351.50,294.60 L351.75,294.60 L352.00,294.60 L352.25,294.60 L352.50,294.60 L352.75,294.60 L353.00,294.60 L353.25,294.60 L353.50,294.60 L353.75,294.60 L354.00,294.60 L354.25,294.60 L354.50,294.60 L354.75,294.60 L355.00,294.60 L355.25,294.60 L355.50,294.60 L355.75,294.60 L356.00,294.60 L356.25,294.60 L356.50,294.60 L356.75,294.60 L357.00,294.60 L357.25,294.60 L357.50,294.60 L357.75,294.60 L358.00,294.60 L358.25,294.60 L358.50,294.60 L358.75,294.60 L359.00,294.60 L359.25,294.60 L359.50,294.60 L359.75,294.60 L360.00,294.60 L360.25,294.60 L360.50,294.60 L360.75,294.60 L361.00,294.60 L361.25,294.60 L361.50,294.60 L361.75,294.60 L362.00,294.60 L362.25,294.60 L362.50,294.60 L362.75,294.60 L363.00,294.60 L363.25,294.60 L363.50,294.60 L363.75,294.60 L364.00,294.60 L364.25,294.60 L364.50,294.60 L364.75,294.60 L365.00,294.60 L365.25,294.60 L365.50,294.60 L365.75,294.60 L366.00,294.60 L366.25,294.60 L366.50,294.60 L366.75,294.60 L367.00,294.60 L367.25,294.60 L367.50,294.60 L367.75,294.60 L368.00,294.60 L368.25,294.60 L368.50,294.60 L368.75,294.60 L369.00,294.60 L369.25,294.60 L369.50,294.60 L369.75,294.60 L370.00,294.60 L370.25,294.60 L370.50,294.60 L370.75,294.60 L371.00,294.60 L371.25,294.60 L371.50,294.60 L371.75,294.60 L372.00,294.60 L372.25,294.60 L372.50,294.60 L372.75,294.60 L373.00,294.60 L373.25,294.60 L373.50,294.60 L373.75,294.60 L374.00,294.60 L374.25,294.60 L374.50,294.60 L374.75,294.60 L375.00,294.60 L375.25,294.60 L375.50,294.60 L375.75,294.60 L376.00,294.60 L376.25,294.60 L376.50,294.60 L376.75,294.60 L377.00,294.60 L377.25,294.60 L377.50,294.60 L377.75,294.60 L378.00,294.60 L378.25,294.60 L378.50,294.60 L378.75,294.60 L379.00,294.60 L379.25,294.60 L379.50,294.60 L379.75,294.60 L380.00,294.60 L380.25,294.60 L380.50,294.60 L380.75,294.60 L381.00,294.60 L381.25,294.60 L381.50,294.60 L381.75,294.60 L382.00,294.60 L382.25,294.60 L382.50,294.60 L382.75,294.60 L383.00,294.60 L383.25,294.60 L383.50,294.60 L383.75,294.59 L384.00,294.59 L384.25,294.59 L384.50,294.59 L384.75,294.59 L385.00,294.59 L385.25,294.59 L385.50,294.59 L385.75,294.59 L386.00,294.59 L386.25,294.59 L386.50,294.59 L386.75,294.59 L387.00,294.59 L387.25,294.59 L387.50,294.59 L387.75,294.59 L388.00,294.58 L388.25,294.58 L388.50,294.58 L388.75,294.58 L389.00,294.58 L389.25,294.58 L389.50,294.58 L389.75,294.57 L390.00,294.57 L390.25,294.57 L390.50,294.57 L390.75,294.56 L391.00,294.56 L391.25,294.56 L391.50,294.55 L391.75,294.55 L392.00,294.54 L392.25,294.52 L392.50,294.43 L392.75,294.16 L393.00,293.23 L393.25,289.95 L393.50,285.60 L393.75,289.95 L394.00,293.23 L394.25,294.03 L394.50,293.10 L394.75,290.76 L395.00,288.60 L395.25,290.76 L395.50,293.10 L395.75,294.03 L396.00,294.18 L396.25,294.11 L396.50,294.03 L396.75,293.94 L397.00,293.82 L397.25,293.69 L397.50,293.52 L397.75,293.33 L398.00,293.10 L398.25,292.83 L398.50,292.51 L398.75,292.14 L399.00,291.72 L399.25,289.89 L399.50,279.98 L399.75,244.96 L400.00,198.60 L400.25,244.96 L400.50,279.98 L400.75,249.09 L401.00,206.60 L401.25,249.09 L401.50,281.20 L401.75,289.29 L402.00,289.74 L402.25,290.24 L402.50,290.76 L402.75,291.26 L403.00,291.72 L403.25,292.14 L403.50,292.51 L403.75,292.83 L404.00,293.10 L404.25,293.33 L404.50,293.52 L404.75,293.69 L405.00,293.82 L405.25,293.94 L405.50,294.03 L405.75,294.11 L406.00,294.18 L406.25,294.24 L406.50,294.28 L406.75,294.33 L407.00,294.36 L407.25,294.39 L407.50,294.41 L407.75,294.44 L408.00,294.46 L408.25,294.47 L408.50,294.49 L408.75,294.50 L409.00,294.51 L409.25,294.52 L409.50,294.53 L409.75,294.53 L410.00,294.54 L410.25,294.55 L410.50,294.55 L410.75,294.56 L411.00,294.56 L411.25,294.56 L411.50,294.57 L411.75,294.57 L412.00,294.57 L412.25,294.57 L412.50,294.58 L412.75,294.58 L413.00,294.58 L413.25,294.58 L413.50,294.58 L413.75,294.58 L414.00,294.58 L414.25,294.58 L414.50,294.57 L414.75,294.55 L415.00,294.50 L415.25,294.36 L415.50,293.92 L415.75,292.18 L416.00,284.94 L416.20,277.60 L416.25,278.27 L416.50,288.95 L416.75,293.19 L417.00,294.16 L417.25,294.43 L417.50,294.52 L417.75,294.56 L418.00,294.58 L418.25,294.59 L418.50,294.59 L418.75,294.59 L419.00,294.60 L419.25,294.60 L419.50,294.60 L419.75,294.60 L420.00,294.60 L420.25,294.60 L420.50,294.60 L420.75,294.60 L421.00,294.60 L421.25,294.60 L421.50,294.60 L421.75,294.60 L422.00,294.60 L422.25,294.60 L422.50,294.60 L422.75,294.60 L423.00,294.60 L423.25,294.60 L423.50,294.60 L423.75,294.60 L424.00,294.60 L424.25,294.60 L424.50,294.59 L424.75,294.59 L425.00,294.59 L425.25,294.59 L425.50,294.59 L425.75,294.59 L426.00,294.59 L426.25,294.59 L426.50,294.59 L426.75,294.58 L427.00,294.58 L427.25,294.58 L427.50,294.57 L427.75,294.57 L428.00,294.56 L428.25,294.55 L428.50,294.55 L428.75,294.53 L429.00,294.52 L429.25,294.50 L429.50,294.48 L429.75,294.45 L430.00,294.41 L430.25,294.36 L430.50,294.30 L430.75,294.21 L431.00,294.10 L431.25,293.96 L431.50,293.78 L431.75,293.57 L432.00,293.32 L432.25,293.06 L432.50,292.83 L432.75,292.66 L433.00,292.60 L433.25,292.66 L433.50,292.83 L433.75,293.06 L434.00,293.32 L434.25,293.57 L434.50,293.78 L434.75,293.96 L435.00,294.10 L435.25,294.21 L435.50,294.30 L435.75,294.36 L436.00,294.41 L436.25,294.45 L436.50,294.48 L436.75,294.50 L437.00,294.52 L437.25,294.53 L437.50,294.55 L437.75,294.55 L438.00,294.56 L438.25,294.57 L438.50,294.57 L438.75,294.58 L439.00,294.58 L439.25,294.58 L439.50,294.59 L439.75,294.59 L440.00,294.59 L440.25,294.59 L440.50,294.59 L440.75,294.59 L441.00,294.59 L441.25,294.59 L441.50,294.59 L441.75,294.60 L442.00,294.60 L442.25,294.60 L442.50,294.60 L442.75,294.60 L443.00,294.60 L443.25,294.60 L443.50,294.60 L443.75,294.60 L444.00,294.60 L444.25,294.60 L444.50,294.60 L444.75,294.60 L445.00,294.60 L445.25,294.60 L445.50,294.60 L445.75,294.60 L446.00,294.60 L446.25,294.60 L446.50,294.60 L446.75,294.60 L447.00,294.60 L447.25,294.60 L447.50,294.60 L447.75,294.60 L448.00,294.60 L448.25,294.60 L448.50,294.60 L448.75,294.60 L449.00,294.60 L449.25,294.60 L449.50,294.60 L449.75,294.60 L450.00,294.60 L450.25,294.60 L450.50,294.60 L450.75,294.60 L451.00,294.60 L451.25,294.60 L451.50,294.60 L451.75,294.60 L452.00,294.60 L452.25,294.60 L452.50,294.60 L452.75,294.60 L453.00,294.60 L453.25,294.60 L453.50,294.60 L453.75,294.60 L454.00,294.60 L454.25,294.60 L454.50,294.60 L454.75,294.60 L455.00,294.60 L455.25,294.60 L455.50,294.60 L455.75,294.60 L456.00,294.60 L456.25,294.60 L456.50,294.60 L456.75,294.60 L457.00,294.60 L457.25,294.60 L457.50,294.60 L457.75,294.60 L458.00,294.60 L458.25,294.60 L458.50,294.60 L458.75,294.60 L459.00,294.60 L459.25,294.60 L459.50,294.60 L459.75,294.60 L460.00,294.60 L460.25,294.60 L460.50,294.60 L460.75,294.60 L461.00,294.60 L461.25,294.60 L461.50,294.60 L461.75,294.60 L462.00,294.60 L462.25,294.60 L462.50,294.60 L462.75,294.60 L463.00,294.60 L463.25,294.60 L463.50,294.60 L463.75,294.60 L464.00,294.60 L464.25,294.60 L464.50,294.60 L464.75,294.60 L465.00,294.60 L465.25,294.60 L465.50,294.60 L465.75,294.60 L466.00,294.60 L466.25,294.60 L466.50,294.60 L466.75,294.60 L467.00,294.60 L467.25,294.60 L467.50,294.60 L467.75,294.60 L468.00,294.60 L468.25,294.60 L468.50,294.60 L468.75,294.60 L469.00,294.60 L469.25,294.60 L469.50,294.60 L469.75,294.60 L470.00,294.60 L470.25,294.60 L470.50,294.60 L470.75,294.60 L471.00,294.60 L471.25,294.60 L471.50,294.60 L471.75,294.60 L472.00,294.60 L472.25,294.60 L472.50,294.60 L472.75,294.60 L473.00,294.60 L473.25,294.60 L473.50,294.60 L473.75,294.60 L474.00,294.60 L474.25,294.60 L474.50,294.60 L474.75,294.60 L475.00,294.60 L475.00,294.60 L57.00,294.60 Z" fill="#2aa8de" stroke="#2aa8de" stroke-width="1.20" stroke-linejoin="round"/>
<line x1="139.7" y1="221.5" x2="139.7" y2="160.0" stroke="#97a3d2" stroke-width="1.5"/>
<line x1="139.7" y1="294.6" x2="139.7" y2="221.5" stroke="#86c0e8" stroke-width="1.5"/>
<path d="M56.80,358.00 L57.05,358.00 L57.30,358.00 L57.55,358.00 L57.80,358.00 L58.05,358.00 L58.30,358.00 L58.55,358.00 L58.80,358.00 L59.05,358.00 L59.30,358.00 L59.55,358.00 L59.80,358.00 L60.05,358.00 L60.30,358.00 L60.55,358.00 L60.80,358.00 L61.05,358.00 L61.30,358.00 L61.55,358.00 L61.80,358.00 L62.05,358.00 L62.30,358.00 L62.55,358.00 L62.80,358.00 L63.05,358.00 L63.30,358.00 L63.55,358.00 L63.80,358.00 L64.05,358.00 L64.30,358.00 L64.55,358.00 L64.80,358.00 L65.05,358.00 L65.30,358.00 L65.55,358.00 L65.80,358.00 L66.05,358.00 L66.30,358.00 L66.55,358.00 L66.80,358.00 L67.05,358.00 L67.30,358.00 L67.55,358.00 L67.80,358.00 L68.05,358.00 L68.30,358.00 L68.55,358.00 L68.80,358.00 L69.05,358.00 L69.30,358.00 L69.55,358.00 L69.80,358.00 L70.05,358.00 L70.30,358.00 L70.55,358.00 L70.80,358.00 L71.05,358.00 L71.30,358.00 L71.55,358.00 L71.80,358.00 L72.05,358.00 L72.30,358.00 L72.55,358.00 L72.80,358.00 L73.05,358.00 L73.30,358.00 L73.55,358.00 L73.80,358.00 L74.05,358.00 L74.30,358.00 L74.55,358.00 L74.80,358.00 L75.05,358.00 L75.30,358.00 L75.55,358.00 L75.80,358.00 L76.05,358.00 L76.30,358.00 L76.55,358.00 L76.80,358.00 L77.05,358.00 L77.30,358.00 L77.55,358.00 L77.80,358.00 L78.05,358.00 L78.30,358.00 L78.55,358.00 L78.80,358.00 L79.05,358.00 L79.30,358.00 L79.55,358.00 L79.80,358.00 L80.05,358.00 L80.30,358.00 L80.55,358.00 L80.80,358.00 L81.05,358.00 L81.30,358.00 L81.55,358.00 L81.80,358.00 L82.05,358.00 L82.30,358.00 L82.55,358.00 L82.80,358.00 L83.05,358.00 L83.30,358.00 L83.55,358.00 L83.80,358.00 L84.05,358.00 L84.30,358.00 L84.55,358.00 L84.80,358.00 L85.05,358.00 L85.30,358.00 L85.55,358.00 L85.80,358.00 L86.05,358.00 L86.30,358.00 L86.55,358.00 L86.80,358.00 L87.05,358.00 L87.30,358.00 L87.55,358.00 L87.80,358.00 L88.05,358.00 L88.30,358.00 L88.55,358.00 L88.80,358.00 L89.05,358.00 L89.30,358.00 L89.55,358.00 L89.80,358.00 L90.05,358.00 L90.30,358.00 L90.55,358.00 L90.80,358.00 L91.05,358.00 L91.30,358.00 L91.55,358.00 L91.80,358.00 L92.05,358.00 L92.30,358.00 L92.55,358.00 L92.80,358.00 L93.05,358.00 L93.30,358.00 L93.55,358.00 L93.80,358.00 L94.05,358.00 L94.30,358.00 L94.55,358.00 L94.80,358.00 L95.05,358.00 L95.30,358.00 L95.55,358.00 L95.80,358.00 L96.05,358.00 L96.30,358.00 L96.55,358.00 L96.80,358.00 L97.05,358.00 L97.30,358.00 L97.55,358.00 L97.80,358.00 L98.05,358.00 L98.30,358.00 L98.55,358.00 L98.80,358.00 L99.05,358.00 L99.30,358.00 L99.55,358.00 L99.80,358.00 L100.05,358.00 L100.30,358.00 L100.55,358.00 L100.80,358.00 L101.05,358.00 L101.30,358.00 L101.55,358.00 L101.80,358.00 L102.05,358.00 L102.30,358.00 L102.55,358.00 L102.80,358.00 L103.05,358.00 L103.30,358.00 L103.55,358.00 L103.80,358.00 L104.05,358.00 L104.30,358.00 L104.55,358.00 L104.80,358.00 L105.05,358.00 L105.30,358.00 L105.55,358.00 L105.80,358.00 L106.05,358.00 L106.30,358.00 L106.55,358.00 L106.80,358.00 L107.05,358.00 L107.30,358.00 L107.55,358.00 L107.80,358.00 L108.05,358.00 L108.30,358.00 L108.55,358.00 L108.80,358.00 L109.05,358.00 L109.30,358.00 L109.55,358.00 L109.80,358.00 L110.05,358.00 L110.30,358.00 L110.55,358.00 L110.80,358.00 L111.05,358.00 L111.30,358.00 L111.55,358.00 L111.80,358.00 L112.05,358.00 L112.30,358.00 L112.55,358.00 L112.80,358.00 L113.05,358.00 L113.30,358.00 L113.55,358.00 L113.80,358.00 L114.05,358.00 L114.30,358.00 L114.55,358.00 L114.80,358.00 L115.05,358.00 L115.30,358.00 L115.55,358.00 L115.80,358.00 L116.05,358.00 L116.30,358.00 L116.55,358.00 L116.80,358.00 L117.05,358.00 L117.30,358.00 L117.55,358.00 L117.80,358.00 L118.05,358.00 L118.30,358.00 L118.55,358.00 L118.80,358.00 L119.05,358.00 L119.30,358.00 L119.55,358.00 L119.80,358.00 L120.05,358.00 L120.30,358.00 L120.55,358.00 L120.80,358.00 L121.05,358.00 L121.30,358.00 L121.55,358.00 L121.80,358.00 L122.05,358.00 L122.30,358.00 L122.55,358.00 L122.80,358.00 L123.05,358.00 L123.30,358.00 L123.55,358.00 L123.80,358.00 L124.05,358.00 L124.30,358.00 L124.55,358.00 L124.80,358.00 L125.05,358.00 L125.30,358.00 L125.55,358.00 L125.80,358.00 L126.05,358.00 L126.30,358.00 L126.55,358.00 L126.80,358.00 L127.05,358.00 L127.30,358.00 L127.55,358.00 L127.80,358.00 L128.05,358.00 L128.30,358.00 L128.55,358.00 L128.80,358.00 L129.05,358.00 L129.30,358.00 L129.55,358.00 L129.80,358.00 L130.05,358.00 L130.30,358.00 L130.55,358.00 L130.80,358.00 L131.05,358.00 L131.30,358.00 L131.55,358.00 L131.80,358.00 L132.05,358.00 L132.30,358.00 L132.55,358.00 L132.80,358.00 L133.05,358.00 L133.30,358.00 L133.55,358.00 L133.80,358.00 L134.05,358.00 L134.30,358.00 L134.55,358.00 L134.80,358.00 L135.05,358.00 L135.30,358.00 L135.55,357.99 L135.80,357.99 L136.05,357.99 L136.30,357.99 L136.55,357.99 L136.80,357.98 L137.05,357.97 L137.30,357.96 L137.55,357.95 L137.80,357.93 L138.05,357.89 L138.30,357.82 L138.55,357.70 L138.80,357.44 L139.05,356.88 L139.30,355.46 L139.55,351.34 L139.80,338.22 L140.05,306.65 L140.20,294.60 L140.30,300.43 L140.55,333.39 L140.80,349.78 L141.05,354.96 L141.30,356.70 L141.55,357.37 L141.80,357.66 L142.05,357.80 L142.30,357.88 L142.55,357.92 L142.80,357.95 L143.05,357.96 L143.30,357.97 L143.55,357.98 L143.80,357.98 L144.05,357.99 L144.30,357.99 L144.55,357.99 L144.80,357.99 L145.05,358.00 L145.30,358.00 L145.55,358.00 L145.80,358.00 L146.05,358.00 L146.30,358.00 L146.55,358.00 L146.80,358.00 L147.05,358.00 L147.30,358.00 L147.55,358.00 L147.80,358.00 L148.05,358.00 L148.30,358.00 L148.55,358.00 L148.80,358.00 L149.05,358.00 L149.30,358.00 L149.55,358.00 L149.80,358.00 L150.05,358.00 L150.30,358.00 L150.55,358.00 L150.80,358.00 L151.05,358.00 L151.30,358.00 L151.55,358.00 L151.80,358.00 L152.05,358.00 L152.30,358.00 L152.55,358.00 L152.80,358.00 L153.05,358.00 L153.30,358.00 L153.55,358.00 L153.80,358.00 L154.05,358.00 L154.30,358.00 L154.55,358.00 L154.80,358.00 L155.05,358.00 L155.30,358.00 L155.55,358.00 L155.80,358.00 L156.05,358.00 L156.30,358.00 L156.55,358.00 L156.80,358.00 L157.05,358.00 L157.30,358.00 L157.55,358.00 L157.80,358.00 L158.05,358.00 L158.30,358.00 L158.55,358.00 L158.80,358.00 L159.05,358.00 L159.30,358.00 L159.55,358.00 L159.80,358.00 L160.05,358.00 L160.30,358.00 L160.55,358.00 L160.80,358.00 L161.05,358.00 L161.30,358.00 L161.55,358.00 L161.80,358.00 L162.05,358.00 L162.30,358.00 L162.55,358.00 L162.80,358.00 L163.05,358.00 L163.30,358.00 L163.55,358.00 L163.80,358.00 L164.05,358.00 L164.30,358.00 L164.55,358.00 L164.80,358.00 L165.05,358.00 L165.30,358.00 L165.55,358.00 L165.80,358.00 L166.05,358.00 L166.30,358.00 L166.55,358.00 L166.80,358.00 L167.05,358.00 L167.30,358.00 L167.55,358.00 L167.80,358.00 L168.05,358.00 L168.30,358.00 L168.55,358.00 L168.80,358.00 L169.05,358.00 L169.30,358.00 L169.55,358.00 L169.80,358.00 L170.05,358.00 L170.30,358.00 L170.55,358.00 L170.80,358.00 L171.05,358.00 L171.30,358.00 L171.55,358.00 L171.80,358.00 L172.05,358.00 L172.30,358.00 L172.55,358.00 L172.80,358.00 L173.05,358.00 L173.30,358.00 L173.55,358.00 L173.80,358.00 L174.05,358.00 L174.30,358.00 L174.55,358.00 L174.80,358.00 L175.05,358.00 L175.30,358.00 L175.55,358.00 L175.80,358.00 L176.05,358.00 L176.30,358.00 L176.55,358.00 L176.80,358.00 L177.05,358.00 L177.30,358.00 L177.55,358.00 L177.80,358.00 L178.05,358.00 L178.30,358.00 L178.55,358.00 L178.80,358.00 L179.05,358.00 L179.30,358.00 L179.55,358.00 L179.80,358.00 L180.05,358.00 L180.30,358.00 L180.55,358.00 L180.80,358.00 L181.05,358.00 L181.30,358.00 L181.55,358.00 L181.80,358.00 L182.05,358.00 L182.30,358.00 L182.55,358.00 L182.80,358.00 L183.05,358.00 L183.30,358.00 L183.55,358.00 L183.80,358.00 L184.05,358.00 L184.30,358.00 L184.55,358.00 L184.80,358.00 L185.05,358.00 L185.30,358.00 L185.55,358.00 L185.80,358.00 L186.05,358.00 L186.30,358.00 L186.55,358.00 L186.80,358.00 L187.05,358.00 L187.30,358.00 L187.55,358.00 L187.80,358.00 L188.05,358.00 L188.30,358.00 L188.55,358.00 L188.80,358.00 L189.05,358.00 L189.30,358.00 L189.55,358.00 L189.80,358.00 L190.05,358.00 L190.30,358.00 L190.55,358.00 L190.80,358.00 L191.05,358.00 L191.30,358.00 L191.55,358.00 L191.80,358.00 L192.05,358.00 L192.30,358.00 L192.55,358.00 L192.80,358.00 L193.05,358.00 L193.30,358.00 L193.55,358.00 L193.80,358.00 L194.05,358.00 L194.30,358.00 L194.55,358.00 L194.80,358.00 L195.05,358.00 L195.30,358.00 L195.55,358.00 L195.80,358.00 L196.05,358.00 L196.30,358.00 L196.55,358.00 L196.80,358.00 L197.05,358.00 L197.30,358.00 L197.55,358.00 L197.80,358.00 L198.05,358.00 L198.30,358.00 L198.55,358.00 L198.80,358.00 L199.05,358.00 L199.30,358.00 L199.55,358.00 L199.80,358.00 L200.05,358.00 L200.30,358.00 L200.55,358.00 L200.80,358.00 L201.05,358.00 L201.30,358.00 L201.55,358.00 L201.80,358.00 L202.05,358.00 L202.30,358.00 L202.55,358.00 L202.80,358.00 L203.05,358.00 L203.30,358.00 L203.55,358.00 L203.80,358.00 L204.05,358.00 L204.30,358.00 L204.55,358.00 L204.80,358.00 L205.05,358.00 L205.30,358.00 L205.55,358.00 L205.80,358.00 L206.05,358.00 L206.30,358.00 L206.55,358.00 L206.80,358.00 L207.05,358.00 L207.30,358.00 L207.55,358.00 L207.80,358.00 L208.05,358.00 L208.30,358.00 L208.55,358.00 L208.80,358.00 L209.05,358.00 L209.30,358.00 L209.55,358.00 L209.80,358.00 L210.05,358.00 L210.30,358.00 L210.55,358.00 L210.80,358.00 L211.05,358.00 L211.30,358.00 L211.55,358.00 L211.80,358.00 L212.05,358.00 L212.30,358.00 L212.55,358.00 L212.80,358.00 L213.05,358.00 L213.30,358.00 L213.55,358.00 L213.80,358.00 L214.05,358.00 L214.30,358.00 L214.55,358.00 L214.80,358.00 L215.05,358.00 L215.30,358.00 L215.55,358.00 L215.80,358.00 L216.05,358.00 L216.30,358.00 L216.55,358.00 L216.80,358.00 L217.05,358.00 L217.30,358.00 L217.55,358.00 L217.80,358.00 L218.05,358.00 L218.30,358.00 L218.55,358.00 L218.80,358.00 L219.05,358.00 L219.30,358.00 L219.55,358.00 L219.80,358.00 L220.05,358.00 L220.30,358.00 L220.55,358.00 L220.80,358.00 L221.05,358.00 L221.30,358.00 L221.55,358.00 L221.80,358.00 L222.05,358.00 L222.30,358.00 L222.55,358.00 L222.80,358.00 L223.05,358.00 L223.30,358.00 L223.55,358.00 L223.80,358.00 L224.05,358.00 L224.30,358.00 L224.55,358.00 L224.80,357.99 L225.05,357.99 L225.30,357.99 L225.55,357.99 L225.80,357.99 L226.05,357.99 L226.30,357.99 L226.55,357.99 L226.80,357.98 L227.05,357.98 L227.30,357.97 L227.55,357.97 L227.80,357.96 L228.05,357.95 L228.30,357.94 L228.55,357.92 L228.80,357.90 L229.05,357.87 L229.30,357.83 L229.55,357.78 L229.80,357.70 L230.05,357.59 L230.30,357.43 L230.55,357.20 L230.80,356.88 L231.05,356.47 L231.30,355.98 L231.55,355.47 L231.80,355.10 L232.00,355.00 L232.05,355.01 L232.30,355.23 L232.55,355.67 L232.80,356.18 L233.05,356.65 L233.30,357.02 L233.55,357.30 L233.80,357.50 L234.05,357.64 L234.30,357.73 L234.55,357.80 L234.80,357.85 L235.05,357.89 L235.30,357.91 L235.55,357.93 L235.80,357.95 L236.05,357.96 L236.30,357.96 L236.55,357.97 L236.80,357.98 L237.05,357.98 L237.30,357.98 L237.55,357.99 L237.80,357.99 L238.05,357.99 L238.30,357.99 L238.55,357.99 L238.80,357.99 L239.05,357.99 L239.30,358.00 L239.55,358.00 L239.80,358.00 L240.05,358.00 L240.30,358.00 L240.55,358.00 L240.80,358.00 L241.05,358.00 L241.30,358.00 L241.55,358.00 L241.80,358.00 L242.05,358.00 L242.30,358.00 L242.55,358.00 L242.80,358.00 L243.05,358.00 L243.30,358.00 L243.55,358.00 L243.80,358.00 L244.05,358.00 L244.30,358.00 L244.55,358.00 L244.80,358.00 L245.05,358.00 L245.30,358.00 L245.55,358.00 L245.80,358.00 L246.05,358.00 L246.30,358.00 L246.55,358.00 L246.80,358.00 L247.05,358.00 L247.30,358.00 L247.55,358.00 L247.80,358.00 L248.05,358.00 L248.30,358.00 L248.55,358.00 L248.80,358.00 L249.05,358.00 L249.30,358.00 L249.55,358.00 L249.80,358.00 L250.05,358.00 L250.30,358.00 L250.55,358.00 L250.80,358.00 L251.05,358.00 L251.30,358.00 L251.55,358.00 L251.80,358.00 L252.05,358.00 L252.30,358.00 L252.55,358.00 L252.80,358.00 L253.05,358.00 L253.30,358.00 L253.55,358.00 L253.80,358.00 L254.05,358.00 L254.30,358.00 L254.55,358.00 L254.80,358.00 L255.05,358.00 L255.30,358.00 L255.55,358.00 L255.80,358.00 L256.05,358.00 L256.30,358.00 L256.55,358.00 L256.80,358.00 L257.05,358.00 L257.30,358.00 L257.55,358.00 L257.80,358.00 L258.05,358.00 L258.30,358.00 L258.55,358.00 L258.80,358.00 L259.05,358.00 L259.30,358.00 L259.55,358.00 L259.80,358.00 L260.05,358.00 L260.30,358.00 L260.55,358.00 L260.80,358.00 L261.05,358.00 L261.30,358.00 L261.55,358.00 L261.80,358.00 L262.05,358.00 L262.30,358.00 L262.55,358.00 L262.80,358.00 L263.05,358.00 L263.30,358.00 L263.55,358.00 L263.80,358.00 L264.05,358.00 L264.30,358.00 L264.55,358.00 L264.80,358.00 L265.05,358.00 L265.30,358.00 L265.55,358.00 L265.80,358.00 L266.05,358.00 L266.30,358.00 L266.55,358.00 L266.80,358.00 L267.05,358.00 L267.30,358.00 L267.55,358.00 L267.80,358.00 L268.05,357.99 L268.30,357.99 L268.55,357.99 L268.80,357.98 L269.05,357.98 L269.30,357.96 L269.55,357.94 L269.80,357.89 L270.05,357.78 L270.30,357.51 L270.55,356.72 L270.80,354.04 L271.05,344.56 L271.30,332.00 L271.55,344.56 L271.80,346.12 L272.05,317.67 L272.30,280.00 L272.55,317.67 L272.80,304.24 L273.00,274.00 L273.05,276.56 L273.30,323.59 L273.55,347.95 L273.80,354.04 L274.05,344.56 L274.30,332.00 L274.55,344.56 L274.80,354.04 L275.05,356.72 L275.30,357.51 L275.55,357.78 L275.80,357.89 L276.05,357.94 L276.30,357.96 L276.55,357.98 L276.80,357.98 L277.05,357.99 L277.30,357.99 L277.55,357.99 L277.80,358.00 L278.05,358.00 L278.30,358.00 L278.55,358.00 L278.80,358.00 L279.05,358.00 L279.30,358.00 L279.55,358.00 L279.80,358.00 L280.05,358.00 L280.30,358.00 L280.55,358.00 L280.80,358.00 L281.05,358.00 L281.30,358.00 L281.55,358.00 L281.80,358.00 L282.05,358.00 L282.30,358.00 L282.55,358.00 L282.80,358.00 L283.05,358.00 L283.30,358.00 L283.55,358.00 L283.80,358.00 L284.05,358.00 L284.30,358.00 L284.55,358.00 L284.80,358.00 L285.05,358.00 L285.30,358.00 L285.55,358.00 L285.80,358.00 L286.05,358.00 L286.30,358.00 L286.55,358.00 L286.80,358.00 L287.05,358.00 L287.30,358.00 L287.55,358.00 L287.80,358.00 L288.05,358.00 L288.30,358.00 L288.55,358.00 L288.80,358.00 L289.05,358.00 L289.30,358.00 L289.55,358.00 L289.80,358.00 L290.05,358.00 L290.30,358.00 L290.55,358.00 L290.80,358.00 L291.05,358.00 L291.30,358.00 L291.55,358.00 L291.80,358.00 L292.05,358.00 L292.30,358.00 L292.55,358.00 L292.80,358.00 L293.05,358.00 L293.30,358.00 L293.55,358.00 L293.80,358.00 L294.05,358.00 L294.30,358.00 L294.55,358.00 L294.80,358.00 L295.05,358.00 L295.30,358.00 L295.55,358.00 L295.80,358.00 L296.05,358.00 L296.30,358.00 L296.55,358.00 L296.80,358.00 L297.05,358.00 L297.30,358.00 L297.55,358.00 L297.80,358.00 L298.05,358.00 L298.30,358.00 L298.55,358.00 L298.80,358.00 L299.05,358.00 L299.30,358.00 L299.55,358.00 L299.80,358.00 L300.05,358.00 L300.30,358.00 L300.55,358.00 L300.80,358.00 L301.05,358.00 L301.30,358.00 L301.55,358.00 L301.80,358.00 L302.05,358.00 L302.30,358.00 L302.55,358.00 L302.80,358.00 L303.05,358.00 L303.30,358.00 L303.55,358.00 L303.80,358.00 L304.05,358.00 L304.30,358.00 L304.55,358.00 L304.80,358.00 L305.05,358.00 L305.30,358.00 L305.55,358.00 L305.80,358.00 L306.05,358.00 L306.30,358.00 L306.55,358.00 L306.80,358.00 L307.05,358.00 L307.30,358.00 L307.55,358.00 L307.80,358.00 L308.05,358.00 L308.30,358.00 L308.55,358.00 L308.80,358.00 L309.05,358.00 L309.30,358.00 L309.55,358.00 L309.80,358.00 L310.05,358.00 L310.30,358.00 L310.55,358.00 L310.80,358.00 L311.05,358.00 L311.30,358.00 L311.55,358.00 L311.80,358.00 L312.05,358.00 L312.30,358.00 L312.55,358.00 L312.80,358.00 L313.05,358.00 L313.30,358.00 L313.55,358.00 L313.80,358.00 L314.05,358.00 L314.30,358.00 L314.55,358.00 L314.80,358.00 L315.05,358.00 L315.30,358.00 L315.55,358.00 L315.80,358.00 L316.05,358.00 L316.30,358.00 L316.55,358.00 L316.80,358.00 L317.05,358.00 L317.30,358.00 L317.55,358.00 L317.80,358.00 L318.05,358.00 L318.30,358.00 L318.55,358.00 L318.80,358.00 L319.05,358.00 L319.30,358.00 L319.55,358.00 L319.80,358.00 L320.05,358.00 L320.30,358.00 L320.55,358.00 L320.80,358.00 L321.05,358.00 L321.30,358.00 L321.55,358.00 L321.80,358.00 L322.05,358.00 L322.30,358.00 L322.55,358.00 L322.80,358.00 L323.05,358.00 L323.30,358.00 L323.55,358.00 L323.80,358.00 L324.05,358.00 L324.30,358.00 L324.55,358.00 L324.80,358.00 L325.05,358.00 L325.30,358.00 L325.55,358.00 L325.80,358.00 L326.05,358.00 L326.30,358.00 L326.55,358.00 L326.80,358.00 L327.05,358.00 L327.30,358.00 L327.55,358.00 L327.80,358.00 L328.05,358.00 L328.30,358.00 L328.55,358.00 L328.80,358.00 L329.05,358.00 L329.30,358.00 L329.55,358.00 L329.80,358.00 L330.05,358.00 L330.30,358.00 L330.55,358.00 L330.80,358.00 L331.05,358.00 L331.30,358.00 L331.55,358.00 L331.80,358.00 L332.05,358.00 L332.30,358.00 L332.55,358.00 L332.80,358.00 L333.05,358.00 L333.30,358.00 L333.55,358.00 L333.80,358.00 L334.05,358.00 L334.30,358.00 L334.55,358.00 L334.80,358.00 L335.05,358.00 L335.30,358.00 L335.55,358.00 L335.80,358.00 L336.05,358.00 L336.30,358.00 L336.55,358.00 L336.80,358.00 L337.05,358.00 L337.30,358.00 L337.55,358.00 L337.80,358.00 L338.05,358.00 L338.30,358.00 L338.55,358.00 L338.80,358.00 L339.05,358.00 L339.30,358.00 L339.55,358.00 L339.80,358.00 L340.05,358.00 L340.30,358.00 L340.55,358.00 L340.80,358.00 L341.05,358.00 L341.30,358.00 L341.55,358.00 L341.80,358.00 L342.05,358.00 L342.30,358.00 L342.55,358.00 L342.80,358.00 L343.05,358.00 L343.30,358.00 L343.55,358.00 L343.80,358.00 L344.05,358.00 L344.30,358.00 L344.55,358.00 L344.80,358.00 L345.05,358.00 L345.30,358.00 L345.55,358.00 L345.80,358.00 L346.05,358.00 L346.30,358.00 L346.55,358.00 L346.80,358.00 L347.05,358.00 L347.30,358.00 L347.55,358.00 L347.80,358.00 L348.05,358.00 L348.30,358.00 L348.55,358.00 L348.80,358.00 L349.05,358.00 L349.30,358.00 L349.55,358.00 L349.80,358.00 L350.05,358.00 L350.30,358.00 L350.55,358.00 L350.80,358.00 L351.05,358.00 L351.30,358.00 L351.55,358.00 L351.80,358.00 L352.05,358.00 L352.30,358.00 L352.55,358.00 L352.80,358.00 L353.05,358.00 L353.30,358.00 L353.55,358.00 L353.80,358.00 L354.05,358.00 L354.30,358.00 L354.55,358.00 L354.80,358.00 L355.05,358.00 L355.30,358.00 L355.55,358.00 L355.80,358.00 L356.05,358.00 L356.30,358.00 L356.55,358.00 L356.80,358.00 L357.05,358.00 L357.30,358.00 L357.55,358.00 L357.80,358.00 L358.05,358.00 L358.30,358.00 L358.55,358.00 L358.80,358.00 L359.05,358.00 L359.30,358.00 L359.55,358.00 L359.80,358.00 L360.05,358.00 L360.30,358.00 L360.55,358.00 L360.80,358.00 L361.05,358.00 L361.30,358.00 L361.55,358.00 L361.80,358.00 L362.05,358.00 L362.30,358.00 L362.55,358.00 L362.80,358.00 L363.05,358.00 L363.30,358.00 L363.55,358.00 L363.80,358.00 L364.05,358.00 L364.30,358.00 L364.55,358.00 L364.80,358.00 L365.05,358.00 L365.30,358.00 L365.55,358.00 L365.80,358.00 L366.05,358.00 L366.30,358.00 L366.55,358.00 L366.80,358.00 L367.05,358.00 L367.30,358.00 L367.55,358.00 L367.80,358.00 L368.05,358.00 L368.30,358.00 L368.55,358.00 L368.80,358.00 L369.05,358.00 L369.30,358.00 L369.55,358.00 L369.80,358.00 L370.05,358.00 L370.30,358.00 L370.55,358.00 L370.80,358.00 L371.05,358.00 L371.30,358.00 L371.55,358.00 L371.80,358.00 L372.05,358.00 L372.30,358.00 L372.55,358.00 L372.80,358.00 L373.05,358.00 L373.30,358.00 L373.55,358.00 L373.80,358.00 L374.05,358.00 L374.30,358.00 L374.55,358.00 L374.80,358.00 L375.05,358.00 L375.30,358.00 L375.55,358.00 L375.80,358.00 L376.05,358.00 L376.30,358.00 L376.55,358.00 L376.80,358.00 L377.05,358.00 L377.30,358.00 L377.55,358.00 L377.80,358.00 L378.05,358.00 L378.30,358.00 L378.55,358.00 L378.80,358.00 L379.05,358.00 L379.30,358.00 L379.55,358.00 L379.80,358.00 L380.05,358.00 L380.30,358.00 L380.55,358.00 L380.80,358.00 L381.05,358.00 L381.30,358.00 L381.55,358.00 L381.80,358.00 L382.05,358.00 L382.30,358.00 L382.55,358.00 L382.80,358.00 L383.05,358.00 L383.30,358.00 L383.55,358.00 L383.80,358.00 L384.05,358.00 L384.30,358.00 L384.55,358.00 L384.80,358.00 L385.05,358.00 L385.30,358.00 L385.55,358.00 L385.80,358.00 L386.05,358.00 L386.30,358.00 L386.55,358.00 L386.80,358.00 L387.05,358.00 L387.30,358.00 L387.55,358.00 L387.80,358.00 L388.05,358.00 L388.30,358.00 L388.55,358.00 L388.80,358.00 L389.05,358.00 L389.30,358.00 L389.55,358.00 L389.80,358.00 L390.05,357.99 L390.30,357.99 L390.55,357.98 L390.80,357.96 L391.05,357.91 L391.30,357.76 L391.55,357.22 L391.80,355.44 L392.00,354.00 L392.05,354.12 L392.30,356.36 L392.55,357.52 L392.80,357.84 L393.05,357.94 L393.30,357.97 L393.55,357.98 L393.80,357.99 L394.05,357.99 L394.30,357.98 L394.55,357.98 L394.80,357.98 L395.05,357.96 L395.30,357.93 L395.55,357.83 L395.80,357.55 L396.05,356.54 L396.30,353.20 L396.50,350.50 L396.55,350.73 L396.80,354.93 L397.05,357.10 L397.30,356.78 L397.55,353.86 L397.80,350.00 L398.05,353.86 L398.30,356.78 L398.55,357.61 L398.80,357.85 L399.05,357.89 L399.30,357.88 L399.55,357.86 L399.80,357.84 L400.05,357.82 L400.30,357.79 L400.55,357.76 L400.80,357.72 L401.05,357.67 L401.30,357.62 L401.55,357.56 L401.80,357.48 L402.05,357.39 L402.30,357.28 L402.55,357.15 L402.80,357.00 L403.05,356.82 L403.30,356.61 L403.55,356.36 L403.80,356.08 L404.05,355.77 L404.30,354.31 L404.55,348.89 L404.80,331.97 L405.05,282.09 L405.30,228.00 L405.55,282.09 L405.80,331.97 L406.05,348.89 L406.30,342.00 L406.55,333.34 L406.60,333.00 L406.80,337.75 L407.05,347.76 L407.30,353.52 L407.55,355.77 L407.80,356.08 L408.05,356.36 L408.30,356.61 L408.55,356.82 L408.80,357.00 L409.05,357.15 L409.30,357.28 L409.55,357.39 L409.80,357.48 L410.05,357.56 L410.30,357.62 L410.55,357.67 L410.80,357.72 L411.05,357.76 L411.30,357.79 L411.55,357.82 L411.80,357.84 L412.05,357.86 L412.30,357.88 L412.55,357.89 L412.80,357.90 L413.05,357.91 L413.30,357.92 L413.55,357.93 L413.80,357.94 L414.05,357.95 L414.30,357.95 L414.55,357.95 L414.80,357.91 L415.05,357.81 L415.30,357.54 L415.55,356.78 L415.80,355.03 L416.00,354.00 L416.05,354.08 L416.30,355.84 L416.55,357.18 L416.80,357.68 L417.05,357.86 L417.30,357.93 L417.55,357.96 L417.80,357.98 L418.05,357.99 L418.30,357.99 L418.55,357.99 L418.80,357.99 L419.05,357.99 L419.30,357.99 L419.55,357.99 L419.80,357.99 L420.05,357.99 L420.30,357.99 L420.55,357.99 L420.80,357.99 L421.05,357.99 L421.30,357.99 L421.55,358.00 L421.80,358.00 L422.05,358.00 L422.30,358.00 L422.55,358.00 L422.80,358.00 L423.05,358.00 L423.30,358.00 L423.55,358.00 L423.80,358.00 L424.05,358.00 L424.30,358.00 L424.55,358.00 L424.80,358.00 L425.05,358.00 L425.30,358.00 L425.55,358.00 L425.80,358.00 L426.05,358.00 L426.30,358.00 L426.55,358.00 L426.80,358.00 L427.05,358.00 L427.30,358.00 L427.55,358.00 L427.80,358.00 L428.05,358.00 L428.30,358.00 L428.55,358.00 L428.80,358.00 L429.05,358.00 L429.30,358.00 L429.55,358.00 L429.80,358.00 L430.05,358.00 L430.30,358.00 L430.55,358.00 L430.80,358.00 L431.05,358.00 L431.30,358.00 L431.55,358.00 L431.80,358.00 L432.05,358.00 L432.30,358.00 L432.55,358.00 L432.80,358.00 L433.05,358.00 L433.30,358.00 L433.55,358.00 L433.80,358.00 L434.05,358.00 L434.30,358.00 L434.55,358.00 L434.80,358.00 L435.05,358.00 L435.30,358.00 L435.55,358.00 L435.80,358.00 L436.05,358.00 L436.30,358.00 L436.55,358.00 L436.80,358.00 L437.05,358.00 L437.30,358.00 L437.55,358.00 L437.80,358.00 L438.05,358.00 L438.30,358.00 L438.55,358.00 L438.80,358.00 L439.05,358.00 L439.30,358.00 L439.55,358.00 L439.80,358.00 L440.05,358.00 L440.30,358.00 L440.55,358.00 L440.80,358.00 L441.05,358.00 L441.30,358.00 L441.55,358.00 L441.80,358.00 L442.05,358.00 L442.30,358.00 L442.55,358.00 L442.80,358.00 L443.05,358.00 L443.30,358.00 L443.55,358.00 L443.80,358.00 L444.05,358.00 L444.30,358.00 L444.55,358.00 L444.80,358.00 L445.05,358.00 L445.30,358.00 L445.55,358.00 L445.80,358.00 L446.05,358.00 L446.30,358.00 L446.55,358.00 L446.80,358.00 L447.05,358.00 L447.30,358.00 L447.55,358.00 L447.80,358.00 L448.05,358.00 L448.30,358.00 L448.55,358.00 L448.80,358.00 L449.05,358.00 L449.30,358.00 L449.55,358.00 L449.80,358.00 L450.05,358.00 L450.30,358.00 L450.55,358.00 L450.80,358.00 L451.05,358.00 L451.30,358.00 L451.55,358.00 L451.80,358.00 L452.05,358.00 L452.30,358.00 L452.55,358.00 L452.80,358.00 L453.05,358.00 L453.30,358.00 L453.55,358.00 L453.80,358.00 L454.05,358.00 L454.30,358.00 L454.55,358.00 L454.80,358.00 L455.05,358.00 L455.30,358.00 L455.55,358.00 L455.80,358.00 L456.05,358.00 L456.30,358.00 L456.55,358.00 L456.80,358.00 L457.05,358.00 L457.30,358.00 L457.55,358.00 L457.80,358.00 L458.05,358.00 L458.30,358.00 L458.55,358.00 L458.80,358.00 L459.05,358.00 L459.30,358.00 L459.55,358.00 L459.80,358.00 L460.05,358.00 L460.30,358.00 L460.55,358.00 L460.80,358.00 L461.05,358.00 L461.30,358.00 L461.55,358.00 L461.80,358.00 L462.05,358.00 L462.30,358.00 L462.55,358.00 L462.80,358.00 L463.05,358.00 L463.30,358.00 L463.55,358.00 L463.80,358.00 L464.05,358.00 L464.30,358.00 L464.55,358.00 L464.80,358.00 L465.05,358.00 L465.30,358.00 L465.55,358.00 L465.80,358.00 L466.05,358.00 L466.30,358.00 L466.55,358.00 L466.80,358.00 L467.05,358.00 L467.30,358.00 L467.55,358.00 L467.80,358.00 L468.05,358.00 L468.30,358.00 L468.55,358.00 L468.80,358.00 L469.05,358.00 L469.30,358.00 L469.55,358.00 L469.80,358.00 L470.05,358.00 L470.30,358.00 L470.55,358.00 L470.80,358.00 L471.05,358.00 L471.30,358.00 L471.55,358.00 L471.80,358.00 L472.05,358.00 L472.30,358.00 L472.55,358.00 L472.80,358.00 L473.05,358.00 L473.30,358.00 L473.55,358.00 L473.80,358.00 L474.05,358.00 L474.30,358.00 L474.50,358.00 L56.80,358.00 Z" fill="#111" stroke="#111" stroke-width="1.30" stroke-linejoin="round"/>
<line x1="140.2" y1="295.5" x2="140.2" y2="256.6" stroke="#2c3440" stroke-width="1.3"/>
<line x1="474.0" y1="358" x2="474.0" y2="360.5" stroke="#444" stroke-width="0.9"/>
<text transform="translate(475.2,370.5) scale(1.25,0.85)" text-anchor="middle" font-family='"Liberation Sans", sans-serif' font-weight="bold" font-size="7.5" fill="#555">0</text>
<line x1="428.0" y1="358" x2="428.0" y2="360.5" stroke="#444" stroke-width="0.9"/>
<text transform="translate(429.2,370.5) scale(1.25,0.85)" text-anchor="middle" font-family='"Liberation Sans", sans-serif' font-weight="bold" font-size="7.5" fill="#555">1</text>
<line x1="382.1" y1="358" x2="382.1" y2="360.5" stroke="#444" stroke-width="0.9"/>
<text transform="translate(383.3,370.5) scale(1.25,0.85)" text-anchor="middle" font-family='"Liberation Sans", sans-serif' font-weight="bold" font-size="7.5" fill="#555">2</text>
<line x1="336.1" y1="358" x2="336.1" y2="360.5" stroke="#444" stroke-width="0.9"/>
<text transform="translate(337.3,370.5) scale(1.25,0.85)" text-anchor="middle" font-family='"Liberation Sans", sans-serif' font-weight="bold" font-size="7.5" fill="#555">3</text>
<line x1="290.2" y1="358" x2="290.2" y2="360.5" stroke="#444" stroke-width="0.9"/>
<text transform="translate(291.4,370.5) scale(1.25,0.85)" text-anchor="middle" font-family='"Liberation Sans", sans-serif' font-weight="bold" font-size="7.5" fill="#555">4</text>
<line x1="244.2" y1="358" x2="244.2" y2="360.5" stroke="#444" stroke-width="0.9"/>
<text transform="translate(245.4,370.5) scale(1.25,0.85)" text-anchor="middle" font-family='"Liberation Sans", sans-serif' font-weight="bold" font-size="7.5" fill="#555">5</text>
<line x1="198.2" y1="358" x2="198.2" y2="360.5" stroke="#444" stroke-width="0.9"/>
<text transform="translate(199.4,370.5) scale(1.25,0.85)" text-anchor="middle" font-family='"Liberation Sans", sans-serif' font-weight="bold" font-size="7.5" fill="#555">6</text>
<line x1="152.3" y1="358" x2="152.3" y2="360.5" stroke="#444" stroke-width="0.9"/>
<text transform="translate(153.5,370.5) scale(1.25,0.85)" text-anchor="middle" font-family='"Liberation Sans", sans-serif' font-weight="bold" font-size="7.5" fill="#555">7</text>
<line x1="106.3" y1="358" x2="106.3" y2="360.5" stroke="#444" stroke-width="0.9"/>
<text transform="translate(107.5,370.5) scale(1.25,0.85)" text-anchor="middle" font-family='"Liberation Sans", sans-serif' font-weight="bold" font-size="7.5" fill="#555">8</text>
<line x1="60.4" y1="358" x2="60.4" y2="360.5" stroke="#444" stroke-width="0.9"/>
<text transform="translate(61.6,370.5) scale(1.25,0.85)" text-anchor="middle" font-family='"Liberation Sans", sans-serif' font-weight="bold" font-size="7.5" fill="#555">9</text>
<text x="189" y="391.3" font-family='"Liberation Sans", sans-serif' font-weight="bold" font-size="13.3" fill="#111" textLength="147" lengthAdjust="spacingAndGlyphs">Chemical shift (ppm)</text>
<text transform="translate(88.8,37.8) rotate(-90) scale(0.5,1)" font-family='"Liberation Mono", monospace' font-size="21.7" fill="#727272" textLength="63.6" lengthAdjust="spacingAndGlyphs">7<tspan font-weight="bold" fill="#333">.</tspan>694</text>
<text transform="translate(111.6,37.8) rotate(-90) scale(0.5,1)" font-family='"Liberation Mono", monospace' font-size="21.7" fill="#727272" textLength="63.6" lengthAdjust="spacingAndGlyphs">7<tspan font-weight="bold" fill="#333">.</tspan>667</text>
<text transform="translate(135.4,37.8) rotate(-90) scale(0.5,1)" font-family='"Liberation Mono", monospace' font-size="21.7" fill="#727272" textLength="63.6" lengthAdjust="spacingAndGlyphs">7<tspan font-weight="bold" fill="#333">.</tspan>659</text>
<text transform="translate(158.0,37.8) rotate(-90) scale(0.5,1)" font-family='"Liberation Mono", monospace' font-size="21.7" fill="#727272" textLength="63.6" lengthAdjust="spacingAndGlyphs">7<tspan font-weight="bold" fill="#333">.</tspan>281</text>
<text transform="translate(181.3,37.8) rotate(-90) scale(0.5,1)" font-family='"Liberation Mono", monospace' font-size="21.7" fill="#727272" textLength="63.6" lengthAdjust="spacingAndGlyphs">7<tspan font-weight="bold" fill="#333">.</tspan>113</text>
<text transform="translate(203.5,37.8) rotate(-90) scale(0.5,1)" font-family='"Liberation Mono", monospace' font-size="21.7" fill="#727272" textLength="63.6" lengthAdjust="spacingAndGlyphs">7<tspan font-weight="bold" fill="#333">.</tspan><tspan font-family="Liberation Sans">0</tspan>86</text>
<text transform="translate(225.4,37.8) rotate(-90) scale(0.5,1)" font-family='"Liberation Mono", monospace' font-size="21.7" fill="#727272" textLength="63.6" lengthAdjust="spacingAndGlyphs">5<tspan font-weight="bold" fill="#333">.</tspan><tspan font-family="Liberation Sans">0</tspan>22</text>
<text transform="translate(246.3,37.8) rotate(-90) scale(0.5,1)" font-family='"Liberation Mono", monospace' font-size="21.7" fill="#727272" textLength="63.6" lengthAdjust="spacingAndGlyphs">5<tspan font-weight="bold" fill="#333">.</tspan><tspan font-family="Liberation Sans">0</tspan><tspan font-family="Liberation Sans">0</tspan><tspan font-family="Liberation Sans">0</tspan></text>
<text transform="translate(269.5,37.8) rotate(-90) scale(0.5,1)" font-family='"Liberation Mono", monospace' font-size="21.7" fill="#727272" textLength="63.6" lengthAdjust="spacingAndGlyphs">4<tspan font-weight="bold" fill="#333">.</tspan>977</text>
<text transform="translate(311.5,37.8) rotate(-90) scale(0.5,1)" font-family='"Liberation Mono", monospace' font-size="21.7" fill="#727272" textLength="63.6" lengthAdjust="spacingAndGlyphs">3<tspan font-weight="bold" fill="#333">.</tspan>39<tspan font-family="Liberation Sans">0</tspan></text>
<text transform="translate(335.2,37.8) rotate(-90) scale(0.5,1)" font-family='"Liberation Mono", monospace' font-size="21.7" fill="#727272" textLength="63.6" lengthAdjust="spacingAndGlyphs">3<tspan font-weight="bold" fill="#333">.</tspan>33<tspan font-family="Liberation Sans">0</tspan></text>
<text transform="translate(356.7,37.8) rotate(-90) scale(0.5,1)" font-family='"Liberation Mono", monospace' font-size="21.7" fill="#727272" textLength="63.6" lengthAdjust="spacingAndGlyphs">3<tspan font-weight="bold" fill="#333">.</tspan>313</text>
<text transform="translate(381.3,37.8) rotate(-90) scale(0.5,1)" font-family='"Liberation Mono", monospace' font-size="21.7" fill="#727272" textLength="63.6" lengthAdjust="spacingAndGlyphs">1<tspan font-weight="bold" fill="#333">.</tspan>668</text>
<text transform="translate(403.3,37.8) rotate(-90) scale(0.5,1)" font-family='"Liberation Mono", monospace' font-size="21.7" fill="#727272" textLength="63.6" lengthAdjust="spacingAndGlyphs">1<tspan font-weight="bold" fill="#333">.</tspan>632</text>
<text transform="translate(427.8,37.8) rotate(-90) scale(0.5,1)" font-family='"Liberation Mono", monospace' font-size="21.7" fill="#727272" textLength="63.6" lengthAdjust="spacingAndGlyphs">1<tspan font-weight="bold" fill="#333">.</tspan>6<tspan font-family="Liberation Sans">0</tspan>9</text>
<text transform="translate(449.0,37.8) rotate(-90) scale(0.5,1)" font-family='"Liberation Mono", monospace' font-size="21.7" fill="#727272" textLength="63.6" lengthAdjust="spacingAndGlyphs">1<tspan font-weight="bold" fill="#333">.</tspan>595</text>
<text transform="translate(471.4,37.8) rotate(-90) scale(0.5,1)" font-family='"Liberation Mono", monospace' font-size="21.7" fill="#727272" textLength="63.6" lengthAdjust="spacingAndGlyphs">1<tspan font-weight="bold" fill="#333">.</tspan>571</text>
<text transform="translate(494.6,37.8) rotate(-90) scale(0.5,1)" font-family='"Liberation Mono", monospace' font-size="21.7" fill="#727272" textLength="63.6" lengthAdjust="spacingAndGlyphs">1<tspan font-weight="bold" fill="#333">.</tspan>484</text>
<text transform="translate(515.9,37.8) rotate(-90) scale(0.5,1)" font-family='"Liberation Mono", monospace' font-size="21.7" fill="#727272" textLength="63.6" lengthAdjust="spacingAndGlyphs">1<tspan font-weight="bold" fill="#333">.</tspan>462</text>
<text transform="translate(539.2,37.8) rotate(-90) scale(0.5,1)" font-family='"Liberation Mono", monospace' font-size="21.7" fill="#727272" textLength="63.6" lengthAdjust="spacingAndGlyphs">1<tspan font-weight="bold" fill="#333">.</tspan>431</text>
<polyline points="81.4,41.8 82.0,44 120.5,58.4" fill="none" stroke="#4a4a4a" stroke-width="1.4" stroke-linejoin="round" stroke-linecap="round"/>
<polyline points="104.4,41.8 105.0,44 120.5,58.4" fill="none" stroke="#4a4a4a" stroke-width="1.4" stroke-linejoin="round" stroke-linecap="round"/>
<polyline points="128.4,41.8 129.0,44 138.3,54.5" fill="none" stroke="#4a4a4a" stroke-width="1.4" stroke-linejoin="round" stroke-linecap="round"/>
<polyline points="152.2,41.8 152.8,44 140.7,58.4" fill="none" stroke="#4a4a4a" stroke-width="1.4" stroke-linejoin="round" stroke-linecap="round"/>
<polyline points="173.6,41.8 174.2,44 156.0,56.0" fill="none" stroke="#4a4a4a" stroke-width="1.4" stroke-linejoin="round" stroke-linecap="round"/>
<polyline points="196.9,41.8 197.5,44 156.0,56.0" fill="none" stroke="#4a4a4a" stroke-width="1.4" stroke-linejoin="round" stroke-linecap="round"/>
<polyline points="219.0,41.8 219.6,44 238.5,56.8" fill="none" stroke="#4a4a4a" stroke-width="1.4" stroke-linejoin="round" stroke-linecap="round"/>
<polyline points="242.3,41.8 242.9,44 246.2,56.2" fill="none" stroke="#4a4a4a" stroke-width="1.4" stroke-linejoin="round" stroke-linecap="round"/>
<polyline points="266.6,41.8 267.2,44 246.5,56.2" fill="none" stroke="#4a4a4a" stroke-width="1.4" stroke-linejoin="round" stroke-linecap="round"/>
<polyline points="303.9,41.8 304.5,44 324.2,56.1" fill="none" stroke="#4a4a4a" stroke-width="1.4" stroke-linejoin="round" stroke-linecap="round"/>
<polyline points="327.9,41.8 328.5,44 331.4,56.0" fill="none" stroke="#4a4a4a" stroke-width="1.4" stroke-linejoin="round" stroke-linecap="round"/>
<polyline points="351.9,41.8 352.5,44 331.5,55.6" fill="none" stroke="#4a4a4a" stroke-width="1.4" stroke-linejoin="round" stroke-linecap="round"/>
<polyline points="374.7,41.8 375.3,44 393.1,54.9" fill="none" stroke="#4a4a4a" stroke-width="1.4" stroke-linejoin="round" stroke-linecap="round"/>
<polyline points="396.9,41.8 397.5,44 397.2,54.5" fill="none" stroke="#4a4a4a" stroke-width="1.4" stroke-linejoin="round" stroke-linecap="round"/>
<polyline points="421.0,40.6 398.8,54.0" fill="none" stroke="#4a4a4a" stroke-width="1.3" stroke-linejoin="round" stroke-linecap="round"/>
<circle cx="421.0" cy="40.8" r="1.1" fill="#333"/>
<polyline points="443.2,40.6 399.0,54.0" fill="none" stroke="#4a4a4a" stroke-width="1.3" stroke-linejoin="round" stroke-linecap="round"/>
<circle cx="443.2" cy="40.8" r="1.1" fill="#333"/>
<polyline points="464.9,40.6 399.5,54.0" fill="none" stroke="#4a4a4a" stroke-width="1.3" stroke-linejoin="round" stroke-linecap="round"/>
<circle cx="464.9" cy="40.8" r="1.1" fill="#333"/>
<polyline points="486.9,40.6 400.0,54.0" fill="none" stroke="#4a4a4a" stroke-width="1.3" stroke-linejoin="round" stroke-linecap="round"/>
<circle cx="486.9" cy="40.8" r="1.1" fill="#333"/>
<polyline points="508.9,40.6 400.5,54.0" fill="none" stroke="#4a4a4a" stroke-width="1.3" stroke-linejoin="round" stroke-linecap="round"/>
<circle cx="508.9" cy="40.8" r="1.1" fill="#333"/>
<polyline points="533.4,40.6 401.0,54.0" fill="none" stroke="#4a4a4a" stroke-width="1.3" stroke-linejoin="round" stroke-linecap="round"/>
<circle cx="533.4" cy="40.8" r="1.1" fill="#333"/>
<text x="103.6" y="81.6" font-family='"Liberation Sans", sans-serif' font-size="12" fill="#2aa565" stroke="#2aa565" stroke-width="0.3" textLength="15.0" lengthAdjust="spacingAndGlyphs">f,f'</text>
<text x="147.9" y="89.2" font-family='"Liberation Sans", sans-serif' font-size="12" fill="#2aa565" stroke="#2aa565" stroke-width="0.3" textLength="22.0" lengthAdjust="spacingAndGlyphs">e,e'</text>
<text x="232.9" y="101.3" font-family='"Liberation Sans", sans-serif' font-size="12" fill="#2aa565" stroke="#2aa565" stroke-width="0.3" textLength="19.8" lengthAdjust="spacingAndGlyphs">c,d</text>
<text x="317.4" y="104.9" font-family='"Liberation Sans", sans-serif' font-size="12" fill="#2aa565" stroke="#2aa565" stroke-width="0.3" textLength="8.8" lengthAdjust="spacingAndGlyphs">b</text>
<text x="385.0" y="98.6" font-family='"Liberation Sans", sans-serif' font-size="12" fill="#2aa565" stroke="#2aa565" stroke-width="0.3" textLength="8.2" lengthAdjust="spacingAndGlyphs">a</text>
<text x="447.0" y="83.6" font-family='"Liberation Sans", sans-serif' font-weight="bold" font-size="10.5" fill="#333">H</text>
<ellipse cx="460.4" cy="79.9" rx="4.20" ry="3.80" fill="none" stroke="#333" stroke-width="1.65"/>
<line x1="466.0" y1="82.6" x2="475.0" y2="86.6" stroke="#474747" stroke-width="1.50" stroke-linecap="round"/>
<line x1="473.4" y1="87.2" x2="473.4" y2="96.5" stroke="#474747" stroke-width="1.50" stroke-linecap="round"/>
<line x1="477.0" y1="87.2" x2="477.0" y2="96.5" stroke="#474747" stroke-width="1.50" stroke-linecap="round"/>
<ellipse cx="475.0" cy="103.3" rx="4.00" ry="3.65" fill="none" stroke="#333" stroke-width="1.65"/>
<line x1="475.0" y1="86.6" x2="490.1" y2="79.4" stroke="#474747" stroke-width="1.50" stroke-linecap="round"/>
<line x1="490.1" y1="79.4" x2="490.1" y2="64.1" stroke="#474747" stroke-width="1.50" stroke-linecap="round"/>
<line x1="490.1" y1="79.4" x2="502.0" y2="84.4" stroke="#474747" stroke-width="1.50" stroke-linecap="round"/>
<path d="M500.2,64.1 L497.9,64.1 L497.9,99.6 L500.2,99.6" fill="none" stroke="#474747" stroke-width="1.4"/>
<ellipse cx="507.7" cy="87.7" rx="4.00" ry="3.65" fill="none" stroke="#333" stroke-width="1.65"/>
<line x1="513.6" y1="84.4" x2="522.8" y2="79.8" stroke="#474747" stroke-width="1.50" stroke-linecap="round"/>
<line x1="520.9" y1="79.8" x2="520.9" y2="70.9" stroke="#474747" stroke-width="1.50" stroke-linecap="round"/>
<line x1="524.4" y1="79.8" x2="524.4" y2="70.9" stroke="#474747" stroke-width="1.50" stroke-linecap="round"/>
<ellipse cx="522.5" cy="65.1" rx="4.00" ry="3.65" fill="none" stroke="#333" stroke-width="1.65"/>
<line x1="522.8" y1="79.8" x2="537.7" y2="86.6" stroke="#474747" stroke-width="1.50" stroke-linecap="round"/>
<line x1="537.7" y1="86.6" x2="547.2" y2="82.0" stroke="#474747" stroke-width="1.50" stroke-linecap="round"/>
<path d="M537.5,86.8 L536.0,102.0 L539.4,102.0 Z" fill="#111"/>
<line x1="537.7" y1="102.0" x2="523.4" y2="110.0" stroke="#474747" stroke-width="1.50" stroke-linecap="round"/>
<ellipse cx="552.2" cy="79.5" rx="4.00" ry="3.65" fill="none" stroke="#333" stroke-width="1.65"/>
<line x1="558.8" y1="82.1" x2="567.6" y2="86.6" stroke="#474747" stroke-width="1.50" stroke-linecap="round"/>
<line x1="566.0" y1="87.2" x2="566.0" y2="96.3" stroke="#474747" stroke-width="1.50" stroke-linecap="round"/>
<line x1="569.3" y1="87.2" x2="569.3" y2="96.3" stroke="#474747" stroke-width="1.50" stroke-linecap="round"/>
<ellipse cx="567.8" cy="102.9" rx="4.00" ry="3.65" fill="none" stroke="#333" stroke-width="1.65"/>
<line x1="567.6" y1="86.6" x2="582.4" y2="79.3" stroke="#474747" stroke-width="1.50" stroke-linecap="round"/>
<line x1="582.4" y1="79.3" x2="582.4" y2="64.4" stroke="#474747" stroke-width="1.50" stroke-linecap="round"/>
<line x1="582.4" y1="79.3" x2="591.6" y2="84.4" stroke="#474747" stroke-width="1.50" stroke-linecap="round"/>
<ellipse cx="596.4" cy="87.6" rx="4.00" ry="3.65" fill="none" stroke="#333" stroke-width="1.65"/>
<line x1="601.5" y1="85.3" x2="617.2" y2="76.9" stroke="#474747" stroke-width="1.50" stroke-linecap="round"/>
<path d="M606.2,63.9 L609.6,63.9 L609.6,99.0 L606.2,99.0" fill="none" stroke="#474747" stroke-width="1.4"/>
<polygon points="507.9,102.2 523.4,110.0 523.4,125.5 507.9,132.8 492.9,125.5 492.9,110.0" fill="none" stroke="#707070" stroke-width="1.35" stroke-linejoin="round"/>
<line x1="496.3" y1="111.9" x2="496.3" y2="123.1" stroke="#808080" stroke-width="1.20" stroke-linecap="round"/>
<line x1="507.9" y1="105.1" x2="519.5" y2="111.4" stroke="#808080" stroke-width="1.20" stroke-linecap="round"/>
<line x1="508.4" y1="129.9" x2="520.0" y2="124.0" stroke="#808080" stroke-width="1.20" stroke-linecap="round"/>
<line x1="492.9" y1="125.5" x2="482.4" y2="130.7" stroke="#474747" stroke-width="1.50" stroke-linecap="round"/>
<rect x="477.3" y="129.9" width="1.9" height="6.8" fill="#222"/>
<text x="589.5" y="63.0" text-anchor="middle" font-family='"Liberation Sans", sans-serif' font-size="9.5" fill="#33b670">a</text>
<text x="582.4" y="91.6" text-anchor="middle" font-family='"Liberation Sans", sans-serif' font-size="9.5" fill="#33b670">d</text>
<text x="536.5" y="84.9" text-anchor="middle" font-family='"Liberation Sans", sans-serif' font-size="9.5" fill="#33b670">c</text>
<text x="545.2" y="105.6" text-anchor="middle" font-family='"Liberation Sans", sans-serif' font-size="9.5" fill="#33b670">b</text>
<text x="514.2" y="102.1" text-anchor="middle" font-family='"Liberation Sans", sans-serif' font-size="9.5" fill="#33b670">e'</text>
<text x="488.5" y="111.3" text-anchor="middle" font-family='"Liberation Sans", sans-serif' font-size="9.5" fill="#33b670">f'</text>
<text x="530.2" y="130.8" text-anchor="middle" font-family='"Liberation Sans", sans-serif' font-size="9.5" fill="#33b670">e</text>
<text x="512.3" y="141.4" text-anchor="middle" font-family='"Liberation Sans", sans-serif' font-size="9.5" fill="#33b670">f</text>
<text x="465" y="156.4" font-family='"Liberation Sans", sans-serif' font-size="10" fill="#2aae66" stroke="#2aae66" stroke-width="0.25" textLength="145" lengthAdjust="spacingAndGlyphs">Iodinated Polylactide (iPLA)</text>
<path d="M69.70,712.50 C73.13,711.83 76.57,711.19 80.00,710.50 C81.93,710.11 83.87,710.03 85.80,709.30 C87.20,708.77 88.60,705.24 90.00,703.00 C91.30,700.92 92.60,699.04 93.90,696.30 C94.93,694.12 95.97,691.07 97.00,688.00 C98.00,685.03 99.00,680.37 100.00,678.00 C100.77,676.19 101.53,673.70 102.30,673.70 C103.20,673.70 104.10,681.18 105.00,685.00 C106.43,691.09 107.87,703.60 109.30,703.60 C110.37,703.60 111.43,701.51 112.50,700.00 C113.43,698.68 114.37,694.70 115.30,694.70 C116.20,694.70 117.10,702.00 118.00,705.00 C119.13,708.78 120.27,714.49 121.40,715.00 C124.27,716.28 127.13,716.71 130.00,716.80 C136.67,717.01 143.33,717.10 150.00,717.10 C154.33,717.10 158.67,715.80 163.00,715.80 C168.67,715.80 174.33,717.90 180.00,719.00 C185.50,720.07 191.00,721.93 196.50,722.30 C204.33,722.82 212.17,723.07 220.00,723.20 C230.00,723.36 240.00,723.36 250.00,723.50 C263.33,723.69 276.67,724.02 290.00,724.50 C293.33,724.62 296.67,725.00 300.00,725.00 C301.67,725.00 303.33,724.18 305.00,723.50 C306.33,722.95 307.67,721.99 309.00,721.00 C310.23,720.08 311.47,719.54 312.70,717.60 C313.63,716.13 314.57,712.02 315.50,705.00 C316.00,701.24 316.50,692.10 317.00,680.00 C317.33,671.94 317.67,643.35 318.00,640.00 C318.87,631.29 319.73,635.62 320.60,627.00 C320.80,625.01 321.00,615.06 321.20,610.00 C321.30,607.47 321.40,603.00 321.50,603.00 C321.60,603.00 321.70,607.47 321.80,610.00 C322.00,615.06 322.20,625.40 322.40,627.00 C323.57,636.36 324.73,630.40 325.90,640.00 C326.20,642.47 326.50,673.63 326.80,680.00 C327.37,692.04 327.93,697.52 328.50,702.00 C329.17,707.27 329.83,711.48 330.50,713.20 C332.07,717.24 333.63,719.96 335.20,720.30 C337.27,720.75 339.33,721.00 341.40,721.00 C344.03,721.00 346.67,720.50 349.30,720.50 C352.33,720.50 355.37,721.71 358.40,722.20 C360.27,722.50 362.13,723.00 364.00,723.00 C365.73,723.00 367.47,723.00 369.20,723.00 C369.60,723.00 370.00,700.05 370.40,690.00 C370.77,680.79 371.13,664.50 371.50,664.50 C371.83,664.50 372.17,681.53 372.50,690.00 C372.80,697.62 373.10,712.80 373.40,712.80 C374.30,712.80 375.20,708.40 376.10,708.40 C376.67,708.40 377.23,717.40 377.80,717.40 C380.00,717.40 382.20,716.41 384.40,713.70 C385.13,712.80 385.87,695.10 386.60,695.10 C387.13,695.10 387.67,705.00 388.20,705.00 C388.73,705.00 389.27,695.09 389.80,690.00 C390.23,685.87 390.67,677.40 391.10,677.40 C391.83,677.40 392.57,702.20 393.30,702.20 C393.83,702.20 394.37,690.45 394.90,685.00 C395.40,679.89 395.90,670.40 396.40,670.40 C397.13,670.40 397.87,682.70 398.60,682.70 C399.20,682.70 399.80,673.90 400.40,673.90 C400.93,673.90 401.47,686.36 402.00,690.00 C402.50,693.42 403.00,697.80 403.50,697.80 C404.07,697.80 404.63,683.96 405.20,675.00 C405.97,662.88 406.73,629.70 407.50,629.70 C408.37,629.70 409.23,685.30 410.10,685.30 C411.07,685.30 412.03,658.60 413.00,640.00 C413.93,622.04 414.87,570.10 415.80,570.10 C416.53,570.10 417.27,623.47 418.00,630.00 C418.73,636.53 419.47,638.06 420.20,641.70 C421.90,650.14 423.60,665.00 425.30,665.00 C426.63,665.00 427.97,628.70 429.30,628.70 C430.20,628.70 431.10,649.57 432.00,660.00 C433.13,673.14 434.27,699.40 435.40,699.40 C437.07,699.40 438.73,681.96 440.40,673.10 C441.40,667.78 442.40,664.80 443.40,657.00 C444.57,647.90 445.73,604.80 446.90,604.80 C447.83,604.80 448.77,659.60 449.70,659.60 C450.30,659.60 450.90,654.30 451.50,654.30 C452.10,654.30 452.70,681.20 453.30,681.20 C454.17,681.20 455.03,662.00 455.90,662.00 C456.80,662.00 457.70,700.40 458.60,700.40 C459.60,700.40 460.60,625.10 461.60,625.10 C462.07,625.10 462.53,701.41 463.00,702.10 C463.90,703.42 464.80,703.90 465.70,703.90 C466.27,703.90 466.83,695.00 467.40,695.00 C468.30,695.00 469.20,707.40 470.10,707.40 C470.97,707.40 471.83,704.50 472.70,704.50 C473.13,704.50 473.57,711.00 474.00,711.00 C474.83,711.00 475.67,704.26 476.50,700.00 C477.03,697.27 477.57,690.50 478.10,690.50 C478.80,690.50 479.50,692.27 480.20,694.80 C480.73,696.73 481.27,712.78 481.80,714.20 C482.87,717.03 483.93,717.63 485.00,718.50 C485.90,719.23 486.80,720.10 487.70,720.10 C488.97,720.10 490.23,719.14 491.50,717.40 C492.03,716.67 492.57,714.06 493.10,709.90 C493.57,706.26 494.03,688.87 494.50,680.00 C494.93,671.77 495.37,657.70 495.80,657.70 C496.33,657.70 496.87,676.00 497.40,676.00 C497.93,676.00 498.47,659.90 499.00,659.90 C499.37,659.90 499.73,687.42 500.10,690.50 C500.63,694.98 501.17,698.00 501.70,698.00 C501.90,698.00 502.10,688.40 502.30,688.40 C502.83,688.40 503.37,704.50 503.90,704.50 C504.80,704.50 505.70,686.80 506.60,686.80 C507.30,686.80 508.00,704.92 508.70,706.70 C509.43,708.56 510.17,709.90 510.90,709.90 C511.97,709.90 513.03,707.08 514.10,704.50 C514.80,702.80 515.50,696.30 516.20,696.30 C517.07,696.30 517.93,709.69 518.80,712.20 C520.30,716.55 521.80,720.20 523.30,720.20 C524.17,720.20 525.03,719.93 525.90,719.30 C526.50,718.87 527.10,676.80 527.70,676.80 C528.13,676.80 528.57,709.60 529.00,709.60 C529.73,709.60 530.47,699.80 531.20,699.80 C532.10,699.80 533.00,714.90 533.90,714.90 C535.67,714.90 537.43,708.70 539.20,708.70 C540.10,708.70 541.00,721.90 541.90,721.90 C543.67,721.90 545.43,721.90 547.20,721.90 C548.53,721.90 549.87,705.60 551.20,705.60 C551.33,705.60 551.47,717.87 551.60,724.00" fill="none" stroke="#18a9e3" stroke-width="2.40" stroke-linejoin="round" stroke-linecap="round"/>
<path d="M69.70,713.00 C73.13,712.33 76.57,711.68 80.00,711.00 C84.10,710.19 88.20,710.24 92.30,708.50 C93.53,707.98 94.77,703.60 96.00,702.00 C97.90,699.53 99.80,696.30 101.70,696.30 C103.13,696.30 104.57,701.34 106.00,704.00 C107.33,706.47 108.67,711.70 110.00,711.70 C111.90,711.70 113.80,711.40 115.70,711.40 C116.80,711.40 117.90,714.84 119.00,716.00 C120.87,717.97 122.73,720.36 124.60,720.60 C129.73,721.25 134.87,721.32 140.00,721.50 C146.67,721.74 153.33,721.75 160.00,722.00 C166.67,722.25 173.33,723.00 180.00,723.50 C186.67,724.00 193.33,724.87 200.00,725.00 C216.67,725.33 233.33,725.50 250.00,725.50 C266.67,725.50 283.33,725.50 300.00,725.50 C302.67,725.50 305.33,725.14 308.00,724.50 C309.33,724.18 310.67,723.11 312.00,721.00 C312.67,719.94 313.33,716.26 314.00,712.00 C314.67,707.74 315.33,700.19 316.00,690.00 C316.67,679.81 317.33,660.51 318.00,640.00 C318.67,619.49 319.33,581.13 320.00,560.00 C320.50,544.15 321.00,530.98 321.50,520.00 C322.00,509.02 322.50,497.33 323.00,492.00 C323.50,486.67 324.00,480.80 324.50,480.80 C324.83,480.80 325.17,486.46 325.50,492.00 C325.80,496.98 326.10,508.22 326.40,520.00 C326.77,534.40 327.13,564.98 327.50,580.00 C328.13,605.95 328.77,623.50 329.40,640.00 C330.00,655.63 330.60,673.99 331.20,680.00 C332.30,691.01 333.40,696.99 334.50,699.80 C335.27,701.76 336.03,702.39 336.80,703.70 C338.33,706.33 339.87,711.70 341.40,711.70 C342.53,711.70 343.67,711.10 344.80,711.10 C346.50,711.10 348.20,716.20 349.90,716.20 C350.87,716.20 351.83,711.10 352.80,711.10 C353.37,711.10 353.93,718.62 354.50,719.60 C356.20,722.54 357.90,723.30 359.60,724.20 C361.10,724.99 362.60,725.90 364.10,725.90 C365.80,725.90 367.50,725.36 369.20,723.00 C369.60,722.44 370.00,700.05 370.40,690.00 C370.77,680.79 371.13,664.50 371.50,664.50 C371.83,664.50 372.17,681.53 372.50,690.00 C372.80,697.62 373.10,712.80 373.40,712.80 C374.30,712.80 375.20,708.40 376.10,708.40 C376.67,708.40 377.23,717.40 377.80,717.40 C380.00,717.40 382.20,716.41 384.40,713.70 C385.13,712.80 385.87,695.10 386.60,695.10 C387.13,695.10 387.67,705.00 388.20,705.00 C388.73,705.00 389.27,694.49 389.80,690.00 C390.23,686.35 390.67,680.00 391.10,680.00 C391.83,680.00 392.57,702.20 393.30,702.20 C393.83,702.20 394.37,689.43 394.90,685.00 C395.40,680.84 395.90,674.80 396.40,674.80 C397.13,674.80 397.87,682.70 398.60,682.70 C399.20,682.70 399.80,676.50 400.40,676.50 C400.93,676.50 401.47,686.58 402.00,690.00 C402.50,693.21 403.00,697.80 403.50,697.80 C404.07,697.80 404.63,682.52 405.20,675.00 C405.97,664.82 406.73,644.80 407.50,644.80 C408.37,644.80 409.23,685.30 410.10,685.30 C411.07,685.30 412.03,656.37 413.00,640.00 C413.93,624.20 414.87,588.30 415.80,588.30 C416.53,588.30 417.27,620.15 418.00,630.00 C418.73,639.85 419.47,652.90 420.20,652.90 C421.90,652.90 423.60,650.16 425.30,646.90 C426.63,644.35 427.97,628.70 429.30,628.70 C430.20,628.70 431.10,649.57 432.00,660.00 C433.13,673.14 434.27,699.40 435.40,699.40 C437.07,699.40 438.73,683.49 440.40,673.10 C441.40,666.86 442.40,660.18 443.40,650.90 C444.57,640.07 445.73,606.50 446.90,606.50 C447.83,606.50 448.77,659.60 449.70,659.60 C450.30,659.60 450.90,654.30 451.50,654.30 C452.10,654.30 452.70,675.60 453.30,675.60 C454.17,675.60 455.03,666.70 455.90,666.70 C456.80,666.70 457.70,700.40 458.60,700.40 C459.60,700.40 460.60,625.10 461.60,625.10 C462.07,625.10 462.53,701.41 463.00,702.10 C463.90,703.42 464.80,703.90 465.70,703.90 C466.27,703.90 466.83,695.00 467.40,695.00 C468.30,695.00 469.20,707.40 470.10,707.40 C470.97,707.40 471.83,704.50 472.70,704.50 C473.13,704.50 473.57,711.00 474.00,711.00 C474.83,711.00 475.67,703.01 476.50,700.00 C477.03,698.07 477.57,695.00 478.10,695.00 C478.80,695.00 479.50,695.73 480.20,697.00 C480.73,697.97 481.27,712.81 481.80,714.20 C482.87,716.99 483.93,717.63 485.00,718.50 C485.90,719.23 486.80,720.10 487.70,720.10 C488.97,720.10 490.23,719.14 491.50,717.40 C492.03,716.67 492.57,714.06 493.10,709.90 C493.57,706.26 494.03,685.25 494.50,680.00 C494.93,675.13 495.37,670.00 495.80,670.00 C496.33,670.00 496.87,676.00 497.40,676.00 C497.93,676.00 498.47,671.00 499.00,671.00 C499.37,671.00 499.73,687.68 500.10,690.50 C500.63,694.60 501.17,698.00 501.70,698.00 C501.90,698.00 502.10,695.00 502.30,695.00 C502.83,695.00 503.37,704.50 503.90,704.50 C504.80,704.50 505.70,689.50 506.60,689.50 C507.30,689.50 508.00,704.96 508.70,706.70 C509.43,708.52 510.17,709.90 510.90,709.90 C511.97,709.90 513.03,706.98 514.10,704.50 C514.80,702.87 515.50,697.20 516.20,697.20 C517.07,697.20 517.93,709.73 518.80,712.20 C520.30,716.48 521.80,720.20 523.30,720.20 C524.17,720.20 525.03,719.92 525.90,719.30 C526.50,718.87 527.10,691.00 527.70,691.00 C528.13,691.00 528.57,709.60 529.00,709.60 C529.73,709.60 530.47,707.80 531.20,707.80 C532.10,707.80 533.00,714.90 533.90,714.90 C535.67,714.90 537.43,714.90 539.20,714.90 C540.10,714.90 541.00,721.90 541.90,721.90 C543.67,721.90 545.43,721.90 547.20,721.90 C548.53,721.90 549.87,716.60 551.20,716.60 C551.33,716.60 551.47,721.53 551.60,724.00" fill="none" stroke="#13a655" stroke-width="2.40" stroke-linejoin="round" stroke-linecap="round"/>
<path d="M69.70,723.00 C71.47,722.83 73.23,722.72 75.00,722.50 C77.00,722.25 79.00,722.13 81.00,721.40 C82.00,721.03 83.00,718.59 84.00,716.00 C84.83,713.84 85.67,707.54 86.50,705.00 C87.27,702.66 88.03,699.60 88.80,699.60 C89.53,699.60 90.27,703.80 91.00,706.00 C91.70,708.10 92.40,712.50 93.10,712.50 C93.90,712.50 94.70,709.38 95.50,708.00 C96.33,706.56 97.17,704.00 98.00,704.00 C98.83,704.00 99.67,707.70 100.50,710.00 C101.27,712.11 102.03,716.90 102.80,717.40 C103.87,718.09 104.93,718.50 106.00,718.50 C107.63,718.50 109.27,717.30 110.90,717.30 C111.60,717.30 112.30,718.91 113.00,719.50 C113.90,720.26 114.80,721.31 115.70,721.40 C120.47,721.87 125.23,721.94 130.00,722.00 C140.00,722.13 150.00,722.10 160.00,722.20 C173.33,722.33 186.67,722.87 200.00,723.00 C216.67,723.16 233.33,723.30 250.00,723.30 C263.33,723.30 276.67,723.10 290.00,722.80 C295.00,722.69 300.00,722.55 305.00,722.00 C306.33,721.85 307.67,721.21 309.00,720.50 C310.23,719.85 311.47,719.08 312.70,717.20 C313.63,715.77 314.57,711.85 315.50,705.00 C316.00,701.33 316.50,691.25 317.00,680.00 C317.40,671.00 317.80,656.61 318.20,640.00 C318.57,624.77 318.93,600.00 319.30,580.00 C319.67,560.00 320.03,542.22 320.40,520.00 C320.60,507.88 320.80,492.44 321.00,480.00 C321.20,467.56 321.40,451.50 321.60,445.00 C321.87,436.33 322.13,427.50 322.40,427.50 C322.67,427.50 322.93,436.81 323.20,445.00 C323.43,452.16 323.67,468.99 323.90,480.00 C324.20,494.15 324.50,501.05 324.80,520.00 C325.00,532.63 325.20,558.12 325.40,580.00 C325.57,598.23 325.73,631.48 325.90,640.00 C326.37,663.86 326.83,671.87 327.30,680.00 C328.23,696.26 329.17,710.22 330.10,712.80 C331.80,717.49 333.50,719.73 335.20,720.10 C337.27,720.54 339.33,720.80 341.40,720.80 C344.03,720.80 346.67,720.20 349.30,720.20 C352.33,720.20 355.37,721.90 358.40,721.90 C361.07,721.90 363.73,721.46 366.40,720.80 C367.93,720.42 369.47,719.40 371.00,717.40 C372.30,715.71 373.60,707.45 374.90,699.20 C375.87,693.07 376.83,671.90 377.80,671.90 C378.57,671.90 379.33,687.05 380.10,694.60 C380.83,701.82 381.57,714.99 382.30,716.20 C383.00,717.35 383.70,718.10 384.40,718.10 C385.60,718.10 386.80,711.49 388.00,705.00 C388.87,700.32 389.73,680.10 390.60,680.10 C391.50,680.10 392.40,682.56 393.30,683.60 C393.87,684.26 394.43,684.54 395.00,685.40 C396.33,687.43 397.67,699.60 399.00,699.60 C400.33,699.60 401.67,699.60 403.00,699.60 C404.47,699.60 405.93,704.90 407.40,704.90 C408.43,704.90 409.47,696.95 410.50,690.00 C411.37,684.17 412.23,662.00 413.10,662.00 C414.80,662.00 416.50,677.20 418.20,677.20 C418.97,677.20 419.73,672.35 420.50,668.00 C421.13,664.41 421.77,657.59 422.40,650.30 C423.07,642.62 423.73,634.34 424.40,620.00 C424.80,611.40 425.20,590.26 425.60,580.00 C426.00,569.74 426.40,560.49 426.80,555.00 C427.23,549.06 427.67,541.80 428.10,541.80 C428.53,541.80 428.97,548.62 429.40,555.00 C429.73,559.90 430.07,568.13 430.40,580.00 C430.63,588.31 430.87,609.46 431.10,620.00 C431.47,636.57 431.83,646.77 432.20,660.00 C432.57,673.23 432.93,699.40 433.30,699.40 C434.20,699.40 435.10,674.25 436.00,660.00 C436.80,647.33 437.60,618.60 438.40,618.60 C439.07,618.60 439.73,637.80 440.40,637.80 C440.77,637.80 441.13,632.92 441.50,628.00 C441.80,623.97 442.10,614.37 442.40,605.00 C442.77,593.55 443.13,574.22 443.50,560.00 C444.00,540.61 444.50,518.82 445.00,505.00 C445.40,493.94 445.80,483.15 446.20,478.00 C446.57,473.28 446.93,468.00 447.30,468.00 C447.67,468.00 448.03,472.76 448.40,478.00 C448.73,482.76 449.07,495.72 449.40,510.00 C449.67,521.42 449.93,545.19 450.20,560.00 C450.47,574.81 450.73,592.73 451.00,600.00 C451.27,607.27 451.53,615.00 451.80,615.00 C452.47,615.00 453.13,596.40 453.80,596.40 C454.37,596.40 454.93,604.49 455.50,610.00 C456.53,620.05 457.57,637.55 458.60,650.90 C459.93,668.12 461.27,694.14 462.60,701.40 C463.97,708.85 465.33,715.60 466.70,715.60 C467.80,715.60 468.90,713.10 470.00,713.10 C471.43,713.10 472.87,713.66 474.30,714.20 C475.57,714.68 476.83,716.90 478.10,716.90 C479.33,716.90 480.57,716.68 481.80,716.30 C482.87,715.97 483.93,712.87 485.00,709.90 C485.90,707.40 486.80,698.00 487.70,698.00 C488.43,698.00 489.17,703.17 489.90,706.70 C490.43,709.27 490.97,714.90 491.50,716.30 C492.03,717.70 492.57,719.00 493.10,719.00 C494.00,719.00 494.90,716.28 495.80,715.30 C497.23,713.73 498.67,711.50 500.10,711.50 C501.17,711.50 502.23,713.10 503.30,713.10 C504.40,713.10 505.50,710.65 506.60,708.80 C507.67,707.01 508.73,704.30 509.80,701.30 C510.47,699.42 511.13,694.50 511.80,694.50 C512.53,694.50 513.27,715.80 514.00,715.80 C514.83,715.80 515.67,712.02 516.50,710.00 C517.43,707.74 518.37,702.90 519.30,702.90 C520.03,702.90 520.77,708.95 521.50,709.60 C522.67,710.63 523.83,711.30 525.00,711.30 C525.90,711.30 526.80,710.90 527.70,710.90 C529.17,710.90 530.63,714.67 532.10,715.80 C533.57,716.93 535.03,717.96 536.50,718.40 C538.00,718.85 539.50,719.30 541.00,719.30 C542.47,719.30 543.93,718.84 545.40,718.40 C546.57,718.05 547.73,717.58 548.90,716.60 C549.67,715.95 550.43,712.20 551.20,712.20 C551.33,712.20 551.47,725.02 551.60,725.50 C551.90,726.58 552.20,726.93 552.50,727.00 C553.53,727.23 554.57,727.20 555.60,727.30" fill="none" stroke="#ec1c24" stroke-width="2.40" stroke-linejoin="round" stroke-linecap="round"/>
<line x1="59.5" y1="727.6" x2="568.2" y2="727.6" stroke="#222" stroke-width="1.8"/>
<line x1="88.4" y1="728" x2="88.4" y2="731" stroke="#777" stroke-width="0.8"/>
<text x="62.3" y="748.8" font-family='"Liberation Sans", sans-serif' font-size="18" fill="#111" textLength="52.3" lengthAdjust="spacingAndGlyphs">3000</text>
<line x1="181.5" y1="728" x2="181.5" y2="731" stroke="#777" stroke-width="0.8"/>
<text x="155.4" y="748.8" font-family='"Liberation Sans", sans-serif' font-size="18" fill="#111" textLength="53.3" lengthAdjust="spacingAndGlyphs">2500</text>
<line x1="275.8" y1="728" x2="275.8" y2="731" stroke="#777" stroke-width="0.8"/>
<text x="247.4" y="748.8" font-family='"Liberation Sans", sans-serif' font-size="18" fill="#111" textLength="52.4" lengthAdjust="spacingAndGlyphs">2000</text>
<line x1="368.8" y1="728" x2="368.8" y2="731" stroke="#777" stroke-width="0.8"/>
<text x="340.1" y="748.8" font-family='"Liberation Sans", sans-serif' font-size="18" fill="#111" textLength="51.3" lengthAdjust="spacingAndGlyphs">1500</text>
<line x1="462.0" y1="728" x2="462.0" y2="731" stroke="#777" stroke-width="0.8"/>
<text x="437.0" y="748.8" font-family='"Liberation Sans", sans-serif' font-size="18" fill="#111" textLength="50.8" lengthAdjust="spacingAndGlyphs">1000</text>
<line x1="554.6" y1="728" x2="554.6" y2="731" stroke="#777" stroke-width="0.8"/>
<text x="535.4" y="748.8" font-family='"Liberation Sans", sans-serif' font-size="18" fill="#111" textLength="38.4" lengthAdjust="spacingAndGlyphs">500</text>
<text x="202.0" y="785.3" font-family='"Liberation Sans", sans-serif' font-weight="bold" font-size="19" fill="#111" textLength="169.5" lengthAdjust="spacingAndGlyphs">Wavenumber</text>
<text x="380.0" y="785.3" font-family='"Liberation Sans", sans-serif' font-weight="bold" font-size="21" fill="#111">(</text>
<text x="389.6" y="785.3" font-family='"Liberation Sans", sans-serif' font-weight="bold" font-size="19" fill="#111" textLength="36.5" lengthAdjust="spacingAndGlyphs">cm</text>
<text x="425.6" y="778.8" font-family='"Liberation Sans", sans-serif' font-weight="bold" font-size="11" fill="#111" textLength="16.8" lengthAdjust="spacingAndGlyphs">-1</text>
<text x="444.0" y="785.3" font-family='"Liberation Sans", sans-serif' font-weight="bold" font-size="21" fill="#111">)</text>
<line x1="155.9" y1="525.4" x2="198" y2="525.4" stroke="#13a655" stroke-width="2"/>
<text x="203.3" y="532.7" font-family='"Liberation Sans", sans-serif' font-size="19.5" fill="#13a655" textLength="56.3" lengthAdjust="spacingAndGlyphs">iPLA</text>
<line x1="155.9" y1="557.1" x2="198" y2="557.1" stroke="#ec1c24" stroke-width="2"/>
<text x="206.0" y="564.9" font-family='"Liberation Sans", sans-serif' font-size="19.5" fill="#ec1c24" textLength="49.4" lengthAdjust="spacingAndGlyphs">PLA</text>
<line x1="155.9" y1="589.5" x2="198" y2="589.5" stroke="#18a9e3" stroke-width="2"/>
<text x="202.8" y="597.0" font-family='"Liberation Sans", sans-serif' font-size="19.5" fill="#18a9e3" textLength="38.8" lengthAdjust="spacingAndGlyphs">iLA</text>
</svg>
</body></html>
